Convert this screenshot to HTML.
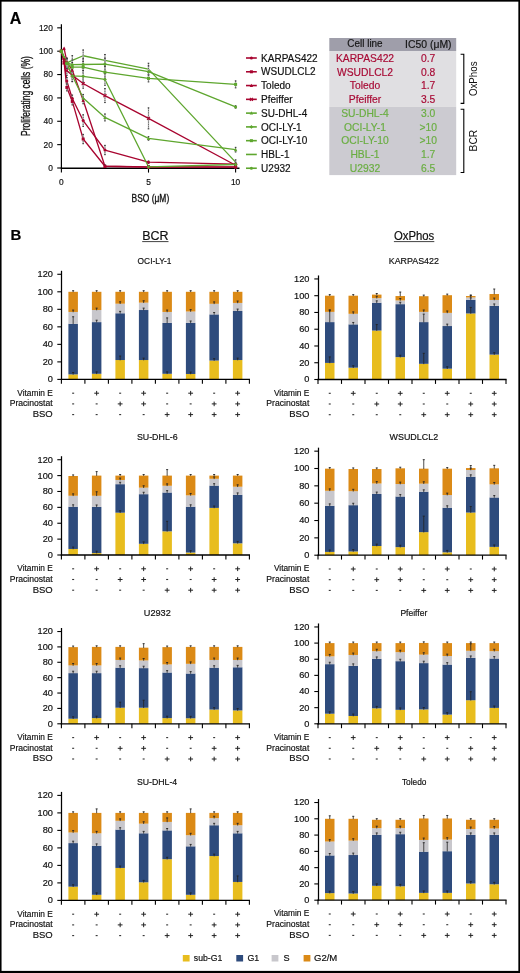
<!DOCTYPE html>
<html><head><meta charset="utf-8"><title>Figure</title>
<style>
html,body{margin:0;padding:0;background:#fff;}
body{width:520px;height:973px;overflow:hidden;}
svg{display:block;font-family:"Liberation Sans", sans-serif;will-change:transform;}
</style></head>
<body>
<svg width="520" height="973" viewBox="0 0 520 973">
<rect x="0" y="0" width="520" height="973" fill="#fff"/>
<text x="9.80" y="23.90" font-size="16" font-weight="bold" fill="#000" stroke="#000" stroke-width="0.18">A</text>
<line x1="61.40" y1="24.20" x2="61.40" y2="168.60" stroke="#000" stroke-width="1.2"/>
<line x1="60.80" y1="168.25" x2="239.50" y2="168.25" stroke="#000" stroke-width="1.4"/>
<line x1="57.20" y1="168.00" x2="61.40" y2="168.00" stroke="#000" stroke-width="1.1"/>
<text x="52.90" y="170.90" font-size="8.4" text-anchor="end" fill="#111" stroke="#111" stroke-width="0.18">0</text>
<line x1="57.20" y1="144.64" x2="61.40" y2="144.64" stroke="#000" stroke-width="1.1"/>
<text x="52.90" y="147.54" font-size="8.4" text-anchor="end" fill="#111" stroke="#111" stroke-width="0.18">20</text>
<line x1="57.20" y1="121.28" x2="61.40" y2="121.28" stroke="#000" stroke-width="1.1"/>
<text x="52.90" y="124.18" font-size="8.4" text-anchor="end" fill="#111" stroke="#111" stroke-width="0.18">40</text>
<line x1="57.20" y1="97.92" x2="61.40" y2="97.92" stroke="#000" stroke-width="1.1"/>
<text x="52.90" y="100.82" font-size="8.4" text-anchor="end" fill="#111" stroke="#111" stroke-width="0.18">60</text>
<line x1="57.20" y1="74.56" x2="61.40" y2="74.56" stroke="#000" stroke-width="1.1"/>
<text x="52.90" y="77.46" font-size="8.4" text-anchor="end" fill="#111" stroke="#111" stroke-width="0.18">80</text>
<line x1="57.20" y1="51.20" x2="61.40" y2="51.20" stroke="#000" stroke-width="1.1"/>
<text x="52.90" y="54.10" font-size="8.4" text-anchor="end" fill="#111" stroke="#111" stroke-width="0.18">100</text>
<line x1="57.20" y1="27.84" x2="61.40" y2="27.84" stroke="#000" stroke-width="1.1"/>
<text x="52.90" y="30.74" font-size="8.4" text-anchor="end" fill="#111" stroke="#111" stroke-width="0.18">120</text>
<line x1="61.40" y1="168.00" x2="61.40" y2="172.60" stroke="#000" stroke-width="1.1"/>
<text x="61.40" y="184.70" font-size="8.4" text-anchor="middle" fill="#111" stroke="#111" stroke-width="0.18">0</text>
<line x1="148.50" y1="168.00" x2="148.50" y2="172.60" stroke="#000" stroke-width="1.1"/>
<text x="148.50" y="184.70" font-size="8.4" text-anchor="middle" fill="#111" stroke="#111" stroke-width="0.18">5</text>
<line x1="235.60" y1="168.00" x2="235.60" y2="172.60" stroke="#000" stroke-width="1.1"/>
<text x="235.60" y="184.70" font-size="8.4" text-anchor="middle" fill="#111" stroke="#111" stroke-width="0.18">10</text>
<text transform="translate(29.9,96.1) rotate(-90)" x="0" y="0" font-size="12.4" text-anchor="middle" textLength="79.8" lengthAdjust="spacingAndGlyphs" fill="#111" stroke="#111" stroke-width="0.3">Proliferating cells (%)</text>
<text x="131.60" y="201.50" font-size="10.6" textLength="37.60" lengthAdjust="spacingAndGlyphs" fill="#111" stroke="#111" stroke-width="0.35">BSO (μM)</text>
<polyline points="61.40,51.20 64.12,59.38 66.84,80.98 72.29,98.50 83.17,120.58 104.95,150.01 148.50,162.16 235.60,164.15" fill="none" stroke="#a8042f" stroke-width="1.3" stroke-linejoin="round"/>
<polyline points="61.40,51.20 64.12,62.88 66.84,87.41 72.29,101.42 83.17,139.03 104.95,166.25 148.50,166.83 235.60,166.83" fill="none" stroke="#a8042f" stroke-width="1.3" stroke-linejoin="round"/>
<polyline points="61.40,51.20 64.12,48.28 66.84,61.71 72.29,70.24 83.17,100.26 104.95,166.25 148.50,167.07 235.60,167.07" fill="none" stroke="#a8042f" stroke-width="1.3" stroke-linejoin="round"/>
<polyline points="61.40,51.20 64.12,62.88 66.84,70.71 72.29,75.14 83.17,83.55 104.95,95.58 148.50,118.36 235.60,165.20" fill="none" stroke="#a8042f" stroke-width="1.3" stroke-linejoin="round"/>
<polyline points="61.40,51.20 66.84,62.88 72.29,60.31 83.17,55.76 104.95,60.31 148.50,69.07 235.60,162.16" fill="none" stroke="#5ea62e" stroke-width="1.3" stroke-linejoin="round"/>
<polyline points="61.40,51.20 66.84,62.88 72.29,64.63 83.17,64.52 104.95,64.05 148.50,71.64 235.60,106.91" fill="none" stroke="#5ea62e" stroke-width="1.3" stroke-linejoin="round"/>
<polyline points="61.40,51.20 66.84,63.46 72.29,67.20 83.17,67.08 104.95,72.22 148.50,78.41 235.60,84.37" fill="none" stroke="#5ea62e" stroke-width="1.3" stroke-linejoin="round"/>
<polyline points="61.40,51.20 66.84,63.46 72.29,75.84 83.17,76.31 104.95,79.47 148.50,166.83 235.60,164.50" fill="none" stroke="#5ea62e" stroke-width="1.3" stroke-linejoin="round"/>
<polyline points="61.40,51.20 66.84,63.46 72.29,75.73 83.17,97.92 104.95,117.43 148.50,138.45 235.60,149.66" fill="none" stroke="#5ea62e" stroke-width="1.3" stroke-linejoin="round"/>
<line x1="66.84" y1="77.48" x2="66.84" y2="84.49" stroke="#b4b4b4" stroke-width="1.3"/>
<line x1="66.84" y1="77.48" x2="66.84" y2="84.49" stroke="#555" stroke-width="0.9" stroke-dasharray="0.9,1.4"/>
<line x1="66.04" y1="77.48" x2="67.64" y2="77.48" stroke="#333" stroke-width="1.0"/>
<line x1="66.04" y1="84.49" x2="67.64" y2="84.49" stroke="#333" stroke-width="1.0"/>
<line x1="72.29" y1="95.00" x2="72.29" y2="102.01" stroke="#b4b4b4" stroke-width="1.3"/>
<line x1="72.29" y1="95.00" x2="72.29" y2="102.01" stroke="#555" stroke-width="0.9" stroke-dasharray="0.9,1.4"/>
<line x1="71.49" y1="95.00" x2="73.09" y2="95.00" stroke="#333" stroke-width="1.0"/>
<line x1="71.49" y1="102.01" x2="73.09" y2="102.01" stroke="#333" stroke-width="1.0"/>
<line x1="83.17" y1="114.74" x2="83.17" y2="126.42" stroke="#b4b4b4" stroke-width="1.3"/>
<line x1="83.17" y1="114.74" x2="83.17" y2="126.42" stroke="#555" stroke-width="0.9" stroke-dasharray="0.9,1.4"/>
<line x1="82.38" y1="114.74" x2="83.97" y2="114.74" stroke="#333" stroke-width="1.0"/>
<line x1="82.38" y1="126.42" x2="83.97" y2="126.42" stroke="#333" stroke-width="1.0"/>
<line x1="104.95" y1="145.34" x2="104.95" y2="154.68" stroke="#b4b4b4" stroke-width="1.3"/>
<line x1="104.95" y1="145.34" x2="104.95" y2="154.68" stroke="#555" stroke-width="0.9" stroke-dasharray="0.9,1.4"/>
<line x1="104.15" y1="145.34" x2="105.75" y2="145.34" stroke="#333" stroke-width="1.0"/>
<line x1="104.15" y1="154.68" x2="105.75" y2="154.68" stroke="#333" stroke-width="1.0"/>
<line x1="148.50" y1="160.99" x2="148.50" y2="163.33" stroke="#b4b4b4" stroke-width="1.3"/>
<line x1="148.50" y1="160.99" x2="148.50" y2="163.33" stroke="#555" stroke-width="0.9" stroke-dasharray="0.9,1.4"/>
<line x1="147.70" y1="160.99" x2="149.30" y2="160.99" stroke="#333" stroke-width="1.0"/>
<line x1="147.70" y1="163.33" x2="149.30" y2="163.33" stroke="#333" stroke-width="1.0"/>
<line x1="235.60" y1="162.98" x2="235.60" y2="165.31" stroke="#b4b4b4" stroke-width="1.3"/>
<line x1="235.60" y1="162.98" x2="235.60" y2="165.31" stroke="#555" stroke-width="0.9" stroke-dasharray="0.9,1.4"/>
<line x1="234.80" y1="162.98" x2="236.40" y2="162.98" stroke="#333" stroke-width="1.0"/>
<line x1="234.80" y1="165.31" x2="236.40" y2="165.31" stroke="#333" stroke-width="1.0"/>
<line x1="66.84" y1="83.90" x2="66.84" y2="90.91" stroke="#b4b4b4" stroke-width="1.3"/>
<line x1="66.84" y1="83.90" x2="66.84" y2="90.91" stroke="#555" stroke-width="0.9" stroke-dasharray="0.9,1.4"/>
<line x1="66.04" y1="83.90" x2="67.64" y2="83.90" stroke="#333" stroke-width="1.0"/>
<line x1="66.04" y1="90.91" x2="67.64" y2="90.91" stroke="#333" stroke-width="1.0"/>
<line x1="72.29" y1="97.92" x2="72.29" y2="104.93" stroke="#b4b4b4" stroke-width="1.3"/>
<line x1="72.29" y1="97.92" x2="72.29" y2="104.93" stroke="#555" stroke-width="0.9" stroke-dasharray="0.9,1.4"/>
<line x1="71.49" y1="97.92" x2="73.09" y2="97.92" stroke="#333" stroke-width="1.0"/>
<line x1="71.49" y1="104.93" x2="73.09" y2="104.93" stroke="#333" stroke-width="1.0"/>
<line x1="83.17" y1="134.36" x2="83.17" y2="143.71" stroke="#b4b4b4" stroke-width="1.3"/>
<line x1="83.17" y1="134.36" x2="83.17" y2="143.71" stroke="#555" stroke-width="0.9" stroke-dasharray="0.9,1.4"/>
<line x1="82.38" y1="134.36" x2="83.97" y2="134.36" stroke="#333" stroke-width="1.0"/>
<line x1="82.38" y1="143.71" x2="83.97" y2="143.71" stroke="#333" stroke-width="1.0"/>
<line x1="104.95" y1="165.08" x2="104.95" y2="167.42" stroke="#b4b4b4" stroke-width="1.3"/>
<line x1="104.95" y1="165.08" x2="104.95" y2="167.42" stroke="#555" stroke-width="0.9" stroke-dasharray="0.9,1.4"/>
<line x1="104.15" y1="165.08" x2="105.75" y2="165.08" stroke="#333" stroke-width="1.0"/>
<line x1="104.15" y1="167.42" x2="105.75" y2="167.42" stroke="#333" stroke-width="1.0"/>
<line x1="148.50" y1="165.66" x2="148.50" y2="168.00" stroke="#b4b4b4" stroke-width="1.3"/>
<line x1="148.50" y1="165.66" x2="148.50" y2="168.00" stroke="#555" stroke-width="0.9" stroke-dasharray="0.9,1.4"/>
<line x1="147.70" y1="165.66" x2="149.30" y2="165.66" stroke="#333" stroke-width="1.0"/>
<line x1="147.70" y1="168.00" x2="149.30" y2="168.00" stroke="#333" stroke-width="1.0"/>
<line x1="235.60" y1="165.66" x2="235.60" y2="168.00" stroke="#b4b4b4" stroke-width="1.3"/>
<line x1="235.60" y1="165.66" x2="235.60" y2="168.00" stroke="#555" stroke-width="0.9" stroke-dasharray="0.9,1.4"/>
<line x1="234.80" y1="165.66" x2="236.40" y2="165.66" stroke="#333" stroke-width="1.0"/>
<line x1="234.80" y1="168.00" x2="236.40" y2="168.00" stroke="#333" stroke-width="1.0"/>
<line x1="66.84" y1="58.21" x2="66.84" y2="65.22" stroke="#b4b4b4" stroke-width="1.3"/>
<line x1="66.84" y1="58.21" x2="66.84" y2="65.22" stroke="#555" stroke-width="0.9" stroke-dasharray="0.9,1.4"/>
<line x1="66.04" y1="58.21" x2="67.64" y2="58.21" stroke="#333" stroke-width="1.0"/>
<line x1="66.04" y1="65.22" x2="67.64" y2="65.22" stroke="#333" stroke-width="1.0"/>
<line x1="72.29" y1="66.73" x2="72.29" y2="73.74" stroke="#b4b4b4" stroke-width="1.3"/>
<line x1="72.29" y1="66.73" x2="72.29" y2="73.74" stroke="#555" stroke-width="0.9" stroke-dasharray="0.9,1.4"/>
<line x1="71.49" y1="66.73" x2="73.09" y2="66.73" stroke="#333" stroke-width="1.0"/>
<line x1="71.49" y1="73.74" x2="73.09" y2="73.74" stroke="#333" stroke-width="1.0"/>
<line x1="83.17" y1="96.75" x2="83.17" y2="103.76" stroke="#b4b4b4" stroke-width="1.3"/>
<line x1="83.17" y1="96.75" x2="83.17" y2="103.76" stroke="#555" stroke-width="0.9" stroke-dasharray="0.9,1.4"/>
<line x1="82.38" y1="96.75" x2="83.97" y2="96.75" stroke="#333" stroke-width="1.0"/>
<line x1="82.38" y1="103.76" x2="83.97" y2="103.76" stroke="#333" stroke-width="1.0"/>
<line x1="104.95" y1="165.08" x2="104.95" y2="167.42" stroke="#b4b4b4" stroke-width="1.3"/>
<line x1="104.95" y1="165.08" x2="104.95" y2="167.42" stroke="#555" stroke-width="0.9" stroke-dasharray="0.9,1.4"/>
<line x1="104.15" y1="165.08" x2="105.75" y2="165.08" stroke="#333" stroke-width="1.0"/>
<line x1="104.15" y1="167.42" x2="105.75" y2="167.42" stroke="#333" stroke-width="1.0"/>
<line x1="148.50" y1="165.90" x2="148.50" y2="168.00" stroke="#b4b4b4" stroke-width="1.3"/>
<line x1="148.50" y1="165.90" x2="148.50" y2="168.00" stroke="#555" stroke-width="0.9" stroke-dasharray="0.9,1.4"/>
<line x1="147.70" y1="165.90" x2="149.30" y2="165.90" stroke="#333" stroke-width="1.0"/>
<line x1="147.70" y1="168.00" x2="149.30" y2="168.00" stroke="#333" stroke-width="1.0"/>
<line x1="235.60" y1="165.90" x2="235.60" y2="168.00" stroke="#b4b4b4" stroke-width="1.3"/>
<line x1="235.60" y1="165.90" x2="235.60" y2="168.00" stroke="#555" stroke-width="0.9" stroke-dasharray="0.9,1.4"/>
<line x1="234.80" y1="165.90" x2="236.40" y2="165.90" stroke="#333" stroke-width="1.0"/>
<line x1="234.80" y1="168.00" x2="236.40" y2="168.00" stroke="#333" stroke-width="1.0"/>
<line x1="66.84" y1="66.03" x2="66.84" y2="75.38" stroke="#b4b4b4" stroke-width="1.3"/>
<line x1="66.84" y1="66.03" x2="66.84" y2="75.38" stroke="#555" stroke-width="0.9" stroke-dasharray="0.9,1.4"/>
<line x1="66.04" y1="66.03" x2="67.64" y2="66.03" stroke="#333" stroke-width="1.0"/>
<line x1="66.04" y1="75.38" x2="67.64" y2="75.38" stroke="#333" stroke-width="1.0"/>
<line x1="72.29" y1="71.64" x2="72.29" y2="78.65" stroke="#b4b4b4" stroke-width="1.3"/>
<line x1="72.29" y1="71.64" x2="72.29" y2="78.65" stroke="#555" stroke-width="0.9" stroke-dasharray="0.9,1.4"/>
<line x1="71.49" y1="71.64" x2="73.09" y2="71.64" stroke="#333" stroke-width="1.0"/>
<line x1="71.49" y1="78.65" x2="73.09" y2="78.65" stroke="#333" stroke-width="1.0"/>
<line x1="83.17" y1="78.88" x2="83.17" y2="88.23" stroke="#b4b4b4" stroke-width="1.3"/>
<line x1="83.17" y1="78.88" x2="83.17" y2="88.23" stroke="#555" stroke-width="0.9" stroke-dasharray="0.9,1.4"/>
<line x1="82.38" y1="78.88" x2="83.97" y2="78.88" stroke="#333" stroke-width="1.0"/>
<line x1="82.38" y1="88.23" x2="83.97" y2="88.23" stroke="#333" stroke-width="1.0"/>
<line x1="104.95" y1="88.58" x2="104.95" y2="102.59" stroke="#b4b4b4" stroke-width="1.3"/>
<line x1="104.95" y1="88.58" x2="104.95" y2="102.59" stroke="#555" stroke-width="0.9" stroke-dasharray="0.9,1.4"/>
<line x1="104.15" y1="88.58" x2="105.75" y2="88.58" stroke="#333" stroke-width="1.0"/>
<line x1="104.15" y1="102.59" x2="105.75" y2="102.59" stroke="#333" stroke-width="1.0"/>
<line x1="148.50" y1="107.85" x2="148.50" y2="128.87" stroke="#b4b4b4" stroke-width="1.3"/>
<line x1="148.50" y1="107.85" x2="148.50" y2="128.87" stroke="#555" stroke-width="0.9" stroke-dasharray="0.9,1.4"/>
<line x1="147.70" y1="107.85" x2="149.30" y2="107.85" stroke="#333" stroke-width="1.0"/>
<line x1="147.70" y1="128.87" x2="149.30" y2="128.87" stroke="#333" stroke-width="1.0"/>
<line x1="235.60" y1="164.03" x2="235.60" y2="166.36" stroke="#b4b4b4" stroke-width="1.3"/>
<line x1="235.60" y1="164.03" x2="235.60" y2="166.36" stroke="#555" stroke-width="0.9" stroke-dasharray="0.9,1.4"/>
<line x1="234.80" y1="164.03" x2="236.40" y2="164.03" stroke="#333" stroke-width="1.0"/>
<line x1="234.80" y1="166.36" x2="236.40" y2="166.36" stroke="#333" stroke-width="1.0"/>
<line x1="66.84" y1="58.21" x2="66.84" y2="67.55" stroke="#b4b4b4" stroke-width="1.3"/>
<line x1="66.84" y1="58.21" x2="66.84" y2="67.55" stroke="#555" stroke-width="0.9" stroke-dasharray="0.9,1.4"/>
<line x1="66.04" y1="58.21" x2="67.64" y2="58.21" stroke="#333" stroke-width="1.0"/>
<line x1="66.04" y1="67.55" x2="67.64" y2="67.55" stroke="#333" stroke-width="1.0"/>
<line x1="72.29" y1="55.64" x2="72.29" y2="64.98" stroke="#b4b4b4" stroke-width="1.3"/>
<line x1="72.29" y1="55.64" x2="72.29" y2="64.98" stroke="#555" stroke-width="0.9" stroke-dasharray="0.9,1.4"/>
<line x1="71.49" y1="55.64" x2="73.09" y2="55.64" stroke="#333" stroke-width="1.0"/>
<line x1="71.49" y1="64.98" x2="73.09" y2="64.98" stroke="#333" stroke-width="1.0"/>
<line x1="83.17" y1="49.92" x2="83.17" y2="61.60" stroke="#b4b4b4" stroke-width="1.3"/>
<line x1="83.17" y1="49.92" x2="83.17" y2="61.60" stroke="#555" stroke-width="0.9" stroke-dasharray="0.9,1.4"/>
<line x1="82.38" y1="49.92" x2="83.97" y2="49.92" stroke="#333" stroke-width="1.0"/>
<line x1="82.38" y1="61.60" x2="83.97" y2="61.60" stroke="#333" stroke-width="1.0"/>
<line x1="104.95" y1="54.47" x2="104.95" y2="66.15" stroke="#b4b4b4" stroke-width="1.3"/>
<line x1="104.95" y1="54.47" x2="104.95" y2="66.15" stroke="#555" stroke-width="0.9" stroke-dasharray="0.9,1.4"/>
<line x1="104.15" y1="54.47" x2="105.75" y2="54.47" stroke="#333" stroke-width="1.0"/>
<line x1="104.15" y1="66.15" x2="105.75" y2="66.15" stroke="#333" stroke-width="1.0"/>
<line x1="148.50" y1="63.23" x2="148.50" y2="74.91" stroke="#b4b4b4" stroke-width="1.3"/>
<line x1="148.50" y1="63.23" x2="148.50" y2="74.91" stroke="#555" stroke-width="0.9" stroke-dasharray="0.9,1.4"/>
<line x1="147.70" y1="63.23" x2="149.30" y2="63.23" stroke="#333" stroke-width="1.0"/>
<line x1="147.70" y1="74.91" x2="149.30" y2="74.91" stroke="#333" stroke-width="1.0"/>
<line x1="235.60" y1="159.82" x2="235.60" y2="164.50" stroke="#b4b4b4" stroke-width="1.3"/>
<line x1="235.60" y1="159.82" x2="235.60" y2="164.50" stroke="#555" stroke-width="0.9" stroke-dasharray="0.9,1.4"/>
<line x1="234.80" y1="159.82" x2="236.40" y2="159.82" stroke="#333" stroke-width="1.0"/>
<line x1="234.80" y1="164.50" x2="236.40" y2="164.50" stroke="#333" stroke-width="1.0"/>
<line x1="66.84" y1="58.21" x2="66.84" y2="67.55" stroke="#b4b4b4" stroke-width="1.3"/>
<line x1="66.84" y1="58.21" x2="66.84" y2="67.55" stroke="#555" stroke-width="0.9" stroke-dasharray="0.9,1.4"/>
<line x1="66.04" y1="58.21" x2="67.64" y2="58.21" stroke="#333" stroke-width="1.0"/>
<line x1="66.04" y1="67.55" x2="67.64" y2="67.55" stroke="#333" stroke-width="1.0"/>
<line x1="72.29" y1="59.96" x2="72.29" y2="69.30" stroke="#b4b4b4" stroke-width="1.3"/>
<line x1="72.29" y1="59.96" x2="72.29" y2="69.30" stroke="#555" stroke-width="0.9" stroke-dasharray="0.9,1.4"/>
<line x1="71.49" y1="59.96" x2="73.09" y2="59.96" stroke="#333" stroke-width="1.0"/>
<line x1="71.49" y1="69.30" x2="73.09" y2="69.30" stroke="#333" stroke-width="1.0"/>
<line x1="83.17" y1="58.68" x2="83.17" y2="70.36" stroke="#b4b4b4" stroke-width="1.3"/>
<line x1="83.17" y1="58.68" x2="83.17" y2="70.36" stroke="#555" stroke-width="0.9" stroke-dasharray="0.9,1.4"/>
<line x1="82.38" y1="58.68" x2="83.97" y2="58.68" stroke="#333" stroke-width="1.0"/>
<line x1="82.38" y1="70.36" x2="83.97" y2="70.36" stroke="#333" stroke-width="1.0"/>
<line x1="104.95" y1="58.21" x2="104.95" y2="69.89" stroke="#b4b4b4" stroke-width="1.3"/>
<line x1="104.95" y1="58.21" x2="104.95" y2="69.89" stroke="#555" stroke-width="0.9" stroke-dasharray="0.9,1.4"/>
<line x1="104.15" y1="58.21" x2="105.75" y2="58.21" stroke="#333" stroke-width="1.0"/>
<line x1="104.15" y1="69.89" x2="105.75" y2="69.89" stroke="#333" stroke-width="1.0"/>
<line x1="148.50" y1="65.80" x2="148.50" y2="77.48" stroke="#b4b4b4" stroke-width="1.3"/>
<line x1="148.50" y1="65.80" x2="148.50" y2="77.48" stroke="#555" stroke-width="0.9" stroke-dasharray="0.9,1.4"/>
<line x1="147.70" y1="65.80" x2="149.30" y2="65.80" stroke="#333" stroke-width="1.0"/>
<line x1="147.70" y1="77.48" x2="149.30" y2="77.48" stroke="#333" stroke-width="1.0"/>
<line x1="235.60" y1="105.75" x2="235.60" y2="108.08" stroke="#b4b4b4" stroke-width="1.3"/>
<line x1="235.60" y1="105.75" x2="235.60" y2="108.08" stroke="#555" stroke-width="0.9" stroke-dasharray="0.9,1.4"/>
<line x1="234.80" y1="105.75" x2="236.40" y2="105.75" stroke="#333" stroke-width="1.0"/>
<line x1="234.80" y1="108.08" x2="236.40" y2="108.08" stroke="#333" stroke-width="1.0"/>
<line x1="66.84" y1="58.79" x2="66.84" y2="68.14" stroke="#b4b4b4" stroke-width="1.3"/>
<line x1="66.84" y1="58.79" x2="66.84" y2="68.14" stroke="#555" stroke-width="0.9" stroke-dasharray="0.9,1.4"/>
<line x1="66.04" y1="58.79" x2="67.64" y2="58.79" stroke="#333" stroke-width="1.0"/>
<line x1="66.04" y1="68.14" x2="67.64" y2="68.14" stroke="#333" stroke-width="1.0"/>
<line x1="72.29" y1="62.53" x2="72.29" y2="71.87" stroke="#b4b4b4" stroke-width="1.3"/>
<line x1="72.29" y1="62.53" x2="72.29" y2="71.87" stroke="#555" stroke-width="0.9" stroke-dasharray="0.9,1.4"/>
<line x1="71.49" y1="62.53" x2="73.09" y2="62.53" stroke="#333" stroke-width="1.0"/>
<line x1="71.49" y1="71.87" x2="73.09" y2="71.87" stroke="#333" stroke-width="1.0"/>
<line x1="83.17" y1="61.24" x2="83.17" y2="72.92" stroke="#b4b4b4" stroke-width="1.3"/>
<line x1="83.17" y1="61.24" x2="83.17" y2="72.92" stroke="#555" stroke-width="0.9" stroke-dasharray="0.9,1.4"/>
<line x1="82.38" y1="61.24" x2="83.97" y2="61.24" stroke="#333" stroke-width="1.0"/>
<line x1="82.38" y1="72.92" x2="83.97" y2="72.92" stroke="#333" stroke-width="1.0"/>
<line x1="104.95" y1="66.38" x2="104.95" y2="78.06" stroke="#b4b4b4" stroke-width="1.3"/>
<line x1="104.95" y1="66.38" x2="104.95" y2="78.06" stroke="#555" stroke-width="0.9" stroke-dasharray="0.9,1.4"/>
<line x1="104.15" y1="66.38" x2="105.75" y2="66.38" stroke="#333" stroke-width="1.0"/>
<line x1="104.15" y1="78.06" x2="105.75" y2="78.06" stroke="#333" stroke-width="1.0"/>
<line x1="148.50" y1="74.91" x2="148.50" y2="81.92" stroke="#b4b4b4" stroke-width="1.3"/>
<line x1="148.50" y1="74.91" x2="148.50" y2="81.92" stroke="#555" stroke-width="0.9" stroke-dasharray="0.9,1.4"/>
<line x1="147.70" y1="74.91" x2="149.30" y2="74.91" stroke="#333" stroke-width="1.0"/>
<line x1="147.70" y1="81.92" x2="149.30" y2="81.92" stroke="#333" stroke-width="1.0"/>
<line x1="235.60" y1="80.87" x2="235.60" y2="87.88" stroke="#b4b4b4" stroke-width="1.3"/>
<line x1="235.60" y1="80.87" x2="235.60" y2="87.88" stroke="#555" stroke-width="0.9" stroke-dasharray="0.9,1.4"/>
<line x1="234.80" y1="80.87" x2="236.40" y2="80.87" stroke="#333" stroke-width="1.0"/>
<line x1="234.80" y1="87.88" x2="236.40" y2="87.88" stroke="#333" stroke-width="1.0"/>
<line x1="66.84" y1="58.79" x2="66.84" y2="68.14" stroke="#b4b4b4" stroke-width="1.3"/>
<line x1="66.84" y1="58.79" x2="66.84" y2="68.14" stroke="#555" stroke-width="0.9" stroke-dasharray="0.9,1.4"/>
<line x1="66.04" y1="58.79" x2="67.64" y2="58.79" stroke="#333" stroke-width="1.0"/>
<line x1="66.04" y1="68.14" x2="67.64" y2="68.14" stroke="#333" stroke-width="1.0"/>
<line x1="72.29" y1="70.00" x2="72.29" y2="81.68" stroke="#b4b4b4" stroke-width="1.3"/>
<line x1="72.29" y1="70.00" x2="72.29" y2="81.68" stroke="#555" stroke-width="0.9" stroke-dasharray="0.9,1.4"/>
<line x1="71.49" y1="70.00" x2="73.09" y2="70.00" stroke="#333" stroke-width="1.0"/>
<line x1="71.49" y1="81.68" x2="73.09" y2="81.68" stroke="#333" stroke-width="1.0"/>
<line x1="83.17" y1="70.47" x2="83.17" y2="82.15" stroke="#b4b4b4" stroke-width="1.3"/>
<line x1="83.17" y1="70.47" x2="83.17" y2="82.15" stroke="#555" stroke-width="0.9" stroke-dasharray="0.9,1.4"/>
<line x1="82.38" y1="70.47" x2="83.97" y2="70.47" stroke="#333" stroke-width="1.0"/>
<line x1="82.38" y1="82.15" x2="83.97" y2="82.15" stroke="#333" stroke-width="1.0"/>
<line x1="104.95" y1="73.63" x2="104.95" y2="85.31" stroke="#b4b4b4" stroke-width="1.3"/>
<line x1="104.95" y1="73.63" x2="104.95" y2="85.31" stroke="#555" stroke-width="0.9" stroke-dasharray="0.9,1.4"/>
<line x1="104.15" y1="73.63" x2="105.75" y2="73.63" stroke="#333" stroke-width="1.0"/>
<line x1="104.15" y1="85.31" x2="105.75" y2="85.31" stroke="#333" stroke-width="1.0"/>
<line x1="148.50" y1="165.66" x2="148.50" y2="168.00" stroke="#b4b4b4" stroke-width="1.3"/>
<line x1="148.50" y1="165.66" x2="148.50" y2="168.00" stroke="#555" stroke-width="0.9" stroke-dasharray="0.9,1.4"/>
<line x1="147.70" y1="165.66" x2="149.30" y2="165.66" stroke="#333" stroke-width="1.0"/>
<line x1="147.70" y1="168.00" x2="149.30" y2="168.00" stroke="#333" stroke-width="1.0"/>
<line x1="235.60" y1="162.16" x2="235.60" y2="166.83" stroke="#b4b4b4" stroke-width="1.3"/>
<line x1="235.60" y1="162.16" x2="235.60" y2="166.83" stroke="#555" stroke-width="0.9" stroke-dasharray="0.9,1.4"/>
<line x1="234.80" y1="162.16" x2="236.40" y2="162.16" stroke="#333" stroke-width="1.0"/>
<line x1="234.80" y1="166.83" x2="236.40" y2="166.83" stroke="#333" stroke-width="1.0"/>
<line x1="66.84" y1="58.79" x2="66.84" y2="68.14" stroke="#b4b4b4" stroke-width="1.3"/>
<line x1="66.84" y1="58.79" x2="66.84" y2="68.14" stroke="#555" stroke-width="0.9" stroke-dasharray="0.9,1.4"/>
<line x1="66.04" y1="58.79" x2="67.64" y2="58.79" stroke="#333" stroke-width="1.0"/>
<line x1="66.04" y1="68.14" x2="67.64" y2="68.14" stroke="#333" stroke-width="1.0"/>
<line x1="72.29" y1="69.89" x2="72.29" y2="81.57" stroke="#b4b4b4" stroke-width="1.3"/>
<line x1="72.29" y1="69.89" x2="72.29" y2="81.57" stroke="#555" stroke-width="0.9" stroke-dasharray="0.9,1.4"/>
<line x1="71.49" y1="69.89" x2="73.09" y2="69.89" stroke="#333" stroke-width="1.0"/>
<line x1="71.49" y1="81.57" x2="73.09" y2="81.57" stroke="#333" stroke-width="1.0"/>
<line x1="83.17" y1="94.42" x2="83.17" y2="101.42" stroke="#b4b4b4" stroke-width="1.3"/>
<line x1="83.17" y1="94.42" x2="83.17" y2="101.42" stroke="#555" stroke-width="0.9" stroke-dasharray="0.9,1.4"/>
<line x1="82.38" y1="94.42" x2="83.97" y2="94.42" stroke="#333" stroke-width="1.0"/>
<line x1="82.38" y1="101.42" x2="83.97" y2="101.42" stroke="#333" stroke-width="1.0"/>
<line x1="104.95" y1="113.92" x2="104.95" y2="120.93" stroke="#b4b4b4" stroke-width="1.3"/>
<line x1="104.95" y1="113.92" x2="104.95" y2="120.93" stroke="#555" stroke-width="0.9" stroke-dasharray="0.9,1.4"/>
<line x1="104.15" y1="113.92" x2="105.75" y2="113.92" stroke="#333" stroke-width="1.0"/>
<line x1="104.15" y1="120.93" x2="105.75" y2="120.93" stroke="#333" stroke-width="1.0"/>
<line x1="148.50" y1="136.70" x2="148.50" y2="140.20" stroke="#b4b4b4" stroke-width="1.3"/>
<line x1="148.50" y1="136.70" x2="148.50" y2="140.20" stroke="#555" stroke-width="0.9" stroke-dasharray="0.9,1.4"/>
<line x1="147.70" y1="136.70" x2="149.30" y2="136.70" stroke="#333" stroke-width="1.0"/>
<line x1="147.70" y1="140.20" x2="149.30" y2="140.20" stroke="#333" stroke-width="1.0"/>
<line x1="235.60" y1="147.33" x2="235.60" y2="152.00" stroke="#b4b4b4" stroke-width="1.3"/>
<line x1="235.60" y1="147.33" x2="235.60" y2="152.00" stroke="#555" stroke-width="0.9" stroke-dasharray="0.9,1.4"/>
<line x1="234.80" y1="147.33" x2="236.40" y2="147.33" stroke="#333" stroke-width="1.0"/>
<line x1="234.80" y1="152.00" x2="236.40" y2="152.00" stroke="#333" stroke-width="1.0"/>
<circle cx="61.40" cy="51.20" r="1.5" fill="#a8042f"/>
<circle cx="64.12" cy="59.38" r="1.5" fill="#a8042f"/>
<circle cx="66.84" cy="80.98" r="1.5" fill="#a8042f"/>
<circle cx="72.29" cy="98.50" r="1.5" fill="#a8042f"/>
<circle cx="83.17" cy="120.58" r="1.5" fill="#a8042f"/>
<circle cx="104.95" cy="150.01" r="1.5" fill="#a8042f"/>
<circle cx="148.50" cy="162.16" r="1.5" fill="#a8042f"/>
<circle cx="235.60" cy="164.15" r="1.5" fill="#a8042f"/>
<rect x="59.90" y="49.70" width="3.00" height="3.00" fill="#a8042f"/>
<rect x="62.62" y="61.38" width="3.00" height="3.00" fill="#a8042f"/>
<rect x="65.34" y="85.91" width="3.00" height="3.00" fill="#a8042f"/>
<rect x="70.79" y="99.92" width="3.00" height="3.00" fill="#a8042f"/>
<rect x="81.67" y="137.53" width="3.00" height="3.00" fill="#a8042f"/>
<rect x="103.45" y="164.75" width="3.00" height="3.00" fill="#a8042f"/>
<rect x="147.00" y="165.33" width="3.00" height="3.00" fill="#a8042f"/>
<rect x="234.10" y="165.33" width="3.00" height="3.00" fill="#a8042f"/>
<path d="M61.40,49.40L63.10,52.70L59.70,52.70Z" fill="#a8042f"/>
<path d="M64.12,46.48L65.82,49.78L62.42,49.78Z" fill="#a8042f"/>
<path d="M66.84,59.91L68.54,63.21L65.14,63.21Z" fill="#a8042f"/>
<path d="M72.29,68.44L73.99,71.74L70.59,71.74Z" fill="#a8042f"/>
<path d="M83.17,98.46L84.88,101.76L81.47,101.76Z" fill="#a8042f"/>
<path d="M104.95,164.45L106.65,167.75L103.25,167.75Z" fill="#a8042f"/>
<path d="M148.50,165.27L150.20,168.57L146.80,168.57Z" fill="#a8042f"/>
<path d="M235.60,165.27L237.30,168.57L233.90,168.57Z" fill="#a8042f"/>
<path d="M59.90,49.70L62.90,52.70M62.90,49.70L59.90,52.70" stroke="#a8042f" stroke-width="1.1"/>
<path d="M62.62,61.38L65.62,64.38M65.62,61.38L62.62,64.38" stroke="#a8042f" stroke-width="1.1"/>
<path d="M65.34,69.21L68.34,72.21M68.34,69.21L65.34,72.21" stroke="#a8042f" stroke-width="1.1"/>
<path d="M70.79,73.64L73.79,76.64M73.79,73.64L70.79,76.64" stroke="#a8042f" stroke-width="1.1"/>
<path d="M81.67,82.05L84.67,85.05M84.67,82.05L81.67,85.05" stroke="#a8042f" stroke-width="1.1"/>
<path d="M103.45,94.08L106.45,97.08M106.45,94.08L103.45,97.08" stroke="#a8042f" stroke-width="1.1"/>
<path d="M147.00,116.86L150.00,119.86M150.00,116.86L147.00,119.86" stroke="#a8042f" stroke-width="1.1"/>
<path d="M234.10,163.70L237.10,166.70M237.10,163.70L234.10,166.70" stroke="#a8042f" stroke-width="1.1"/>
<circle cx="61.40" cy="51.20" r="1.5" fill="#5ea62e"/>
<circle cx="66.84" cy="62.88" r="1.5" fill="#5ea62e"/>
<circle cx="72.29" cy="64.63" r="1.5" fill="#5ea62e"/>
<circle cx="83.17" cy="64.52" r="1.5" fill="#5ea62e"/>
<circle cx="104.95" cy="64.05" r="1.5" fill="#5ea62e"/>
<circle cx="148.50" cy="71.64" r="1.5" fill="#5ea62e"/>
<circle cx="235.60" cy="106.91" r="1.5" fill="#5ea62e"/>
<rect x="59.90" y="49.70" width="3.00" height="3.00" fill="#5ea62e"/>
<rect x="65.34" y="61.96" width="3.00" height="3.00" fill="#5ea62e"/>
<rect x="70.79" y="65.70" width="3.00" height="3.00" fill="#5ea62e"/>
<rect x="81.67" y="65.58" width="3.00" height="3.00" fill="#5ea62e"/>
<rect x="103.45" y="70.72" width="3.00" height="3.00" fill="#5ea62e"/>
<rect x="147.00" y="76.91" width="3.00" height="3.00" fill="#5ea62e"/>
<rect x="234.10" y="82.87" width="3.00" height="3.00" fill="#5ea62e"/>
<path d="M61.40,49.30L63.30,51.20L61.40,53.10L59.50,51.20Z" fill="#5ea62e"/>
<path d="M66.84,61.56L68.74,63.46L66.84,65.36L64.94,63.46Z" fill="#5ea62e"/>
<path d="M72.29,73.94L74.19,75.84L72.29,77.74L70.39,75.84Z" fill="#5ea62e"/>
<path d="M83.17,74.41L85.08,76.31L83.17,78.21L81.27,76.31Z" fill="#5ea62e"/>
<path d="M104.95,77.57L106.85,79.47L104.95,81.37L103.05,79.47Z" fill="#5ea62e"/>
<path d="M148.50,164.93L150.40,166.83L148.50,168.73L146.60,166.83Z" fill="#5ea62e"/>
<path d="M235.60,162.60L237.50,164.50L235.60,166.40L233.70,164.50Z" fill="#5ea62e"/>
<path d="M61.40,49.40L63.10,52.70L59.70,52.70Z" fill="#5ea62e"/>
<path d="M66.84,61.66L68.54,64.96L65.14,64.96Z" fill="#5ea62e"/>
<path d="M72.29,73.93L73.99,77.23L70.59,77.23Z" fill="#5ea62e"/>
<path d="M83.17,96.12L84.88,99.42L81.47,99.42Z" fill="#5ea62e"/>
<path d="M104.95,115.63L106.65,118.93L103.25,118.93Z" fill="#5ea62e"/>
<path d="M148.50,136.65L150.20,139.95L146.80,139.95Z" fill="#5ea62e"/>
<path d="M235.60,147.86L237.30,151.16L233.90,151.16Z" fill="#5ea62e"/>
<line x1="246.00" y1="58.00" x2="256.80" y2="58.00" stroke="#a8042f" stroke-width="1.6"/>
<circle cx="251.40" cy="58.00" r="1.5" fill="#a8042f"/>
<text x="261.10" y="61.70" font-size="10" fill="#111" stroke="#111" stroke-width="0.18">KARPAS422</text>
<line x1="246.00" y1="71.78" x2="256.80" y2="71.78" stroke="#a8042f" stroke-width="1.6"/>
<rect x="249.90" y="70.28" width="3.00" height="3.00" fill="#a8042f"/>
<text x="261.10" y="75.48" font-size="10" fill="#111" stroke="#111" stroke-width="0.18">WSUDLCL2</text>
<line x1="246.00" y1="85.56" x2="256.80" y2="85.56" stroke="#a8042f" stroke-width="1.6"/>
<path d="M251.40,83.76L253.10,87.06L249.70,87.06Z" fill="#a8042f"/>
<text x="261.10" y="89.26" font-size="10" fill="#111" stroke="#111" stroke-width="0.18">Toledo</text>
<line x1="246.00" y1="99.34" x2="256.80" y2="99.34" stroke="#a8042f" stroke-width="1.6"/>
<path d="M249.90,97.84L252.90,100.84M252.90,97.84L249.90,100.84" stroke="#a8042f" stroke-width="1.1"/>
<text x="261.10" y="103.04" font-size="10" fill="#111" stroke="#111" stroke-width="0.18">Pfeiffer</text>
<line x1="246.00" y1="113.12" x2="256.80" y2="113.12" stroke="#5ea62e" stroke-width="1.6"/>
<path d="M251.40,111.32L253.10,114.62L249.70,114.62Z" fill="#5ea62e"/>
<text x="261.10" y="116.82" font-size="10" fill="#111" stroke="#111" stroke-width="0.18">SU-DHL-4</text>
<line x1="246.00" y1="126.90" x2="256.80" y2="126.90" stroke="#5ea62e" stroke-width="1.6"/>
<path d="M251.40,125.00L253.30,126.90L251.40,128.80L249.50,126.90Z" fill="#5ea62e"/>
<text x="261.10" y="130.60" font-size="10" fill="#111" stroke="#111" stroke-width="0.18">OCI-LY-1</text>
<line x1="246.00" y1="140.68" x2="256.80" y2="140.68" stroke="#5ea62e" stroke-width="1.6"/>
<rect x="249.90" y="139.18" width="3.00" height="3.00" fill="#5ea62e"/>
<text x="261.10" y="144.38" font-size="10" fill="#111" stroke="#111" stroke-width="0.18">OCI-LY-10</text>
<line x1="246.00" y1="154.46" x2="256.80" y2="154.46" stroke="#5ea62e" stroke-width="1.6"/>
<text x="261.10" y="158.16" font-size="10" fill="#111" stroke="#111" stroke-width="0.18">HBL-1</text>
<line x1="246.00" y1="168.24" x2="256.80" y2="168.24" stroke="#5ea62e" stroke-width="1.6"/>
<circle cx="251.40" cy="168.24" r="1.5" fill="#5ea62e"/>
<text x="261.10" y="171.94" font-size="10" fill="#111" stroke="#111" stroke-width="0.18">U2932</text>
<rect x="329.30" y="38.00" width="126.90" height="13.00" fill="#9f9eaa"/>
<rect x="329.30" y="51.00" width="126.90" height="55.80" fill="#e0dfe2"/>
<rect x="329.30" y="106.80" width="126.90" height="68.30" fill="#cccbd1"/>
<text x="365.00" y="47.40" font-size="10" text-anchor="middle" textLength="35.30" lengthAdjust="spacingAndGlyphs" fill="#151515" stroke="#151515" stroke-width="0.18">Cell line</text>
<text x="428.35" y="47.50" font-size="10" text-anchor="middle" textLength="46.50" lengthAdjust="spacingAndGlyphs" fill="#151515" stroke="#151515" stroke-width="0.18">IC50 (μM)</text>
<text x="365.00" y="61.90" font-size="10.3" text-anchor="middle" fill="#a80a35" stroke="#a80a35" stroke-width="0.18">KARPAS422</text>
<text x="428.20" y="61.90" font-size="10.3" text-anchor="middle" fill="#a80a35" stroke="#a80a35" stroke-width="0.18">0.7</text>
<text x="365.00" y="75.65" font-size="10.3" text-anchor="middle" fill="#a80a35" stroke="#a80a35" stroke-width="0.18">WSUDLCL2</text>
<text x="428.20" y="75.65" font-size="10.3" text-anchor="middle" fill="#a80a35" stroke="#a80a35" stroke-width="0.18">0.8</text>
<text x="365.00" y="89.40" font-size="10.3" text-anchor="middle" fill="#a80a35" stroke="#a80a35" stroke-width="0.18">Toledo</text>
<text x="428.20" y="89.40" font-size="10.3" text-anchor="middle" fill="#a80a35" stroke="#a80a35" stroke-width="0.18">1.7</text>
<text x="365.00" y="103.15" font-size="10.3" text-anchor="middle" fill="#a80a35" stroke="#a80a35" stroke-width="0.18">Pfeiffer</text>
<text x="428.20" y="103.15" font-size="10.3" text-anchor="middle" fill="#a80a35" stroke="#a80a35" stroke-width="0.18">3.5</text>
<text x="365.00" y="116.90" font-size="10.3" text-anchor="middle" fill="#6aae42" stroke="#6aae42" stroke-width="0.18">SU-DHL-4</text>
<text x="428.20" y="116.90" font-size="10.3" text-anchor="middle" fill="#6aae42" stroke="#6aae42" stroke-width="0.18">3.0</text>
<text x="365.00" y="130.65" font-size="10.3" text-anchor="middle" fill="#6aae42" stroke="#6aae42" stroke-width="0.18">OCI-LY-1</text>
<text x="428.20" y="130.65" font-size="10.3" text-anchor="middle" fill="#6aae42" stroke="#6aae42" stroke-width="0.18">&gt;10</text>
<text x="365.00" y="144.40" font-size="10.3" text-anchor="middle" fill="#6aae42" stroke="#6aae42" stroke-width="0.18">OCI-LY-10</text>
<text x="428.20" y="144.40" font-size="10.3" text-anchor="middle" fill="#6aae42" stroke="#6aae42" stroke-width="0.18">&gt;10</text>
<text x="365.00" y="158.15" font-size="10.3" text-anchor="middle" fill="#6aae42" stroke="#6aae42" stroke-width="0.18">HBL-1</text>
<text x="428.20" y="158.15" font-size="10.3" text-anchor="middle" fill="#6aae42" stroke="#6aae42" stroke-width="0.18">1.7</text>
<text x="365.00" y="171.90" font-size="10.3" text-anchor="middle" fill="#6aae42" stroke="#6aae42" stroke-width="0.18">U2932</text>
<text x="428.20" y="171.90" font-size="10.3" text-anchor="middle" fill="#6aae42" stroke="#6aae42" stroke-width="0.18">6.5</text>
<path d="M460.6,54.20H463.8V103.40H460.6" fill="none" stroke="#000" stroke-width="1.1"/>
<path d="M460.6,109.30H463.8V172.50H460.6" fill="none" stroke="#000" stroke-width="1.1"/>
<text transform="translate(477,78.8) rotate(-90)" font-size="10.5" text-anchor="middle" textLength="34.6" lengthAdjust="spacingAndGlyphs" fill="#111">OxPhos</text>
<text transform="translate(477,140.6) rotate(-90)" font-size="10.5" text-anchor="middle" textLength="21.6" lengthAdjust="spacingAndGlyphs" fill="#111">BCR</text>
<text x="10.50" y="240.00" font-size="15" font-weight="bold" fill="#000" stroke="#000" stroke-width="0.18">B</text>
<text x="142.20" y="239.60" font-size="12" textLength="26.30" lengthAdjust="spacingAndGlyphs" fill="#111" stroke="#111" stroke-width="0.18">BCR</text>
<line x1="142.20" y1="241.60" x2="168.50" y2="241.60" stroke="#111" stroke-width="0.8"/>
<text x="393.90" y="239.60" font-size="12" textLength="40.40" lengthAdjust="spacingAndGlyphs" fill="#111" stroke="#111" stroke-width="0.18">OxPhos</text>
<line x1="393.90" y1="241.60" x2="434.30" y2="241.60" stroke="#111" stroke-width="0.8"/>
<rect x="68.40" y="374.41" width="9.50" height="4.99" fill="#e8bd1e"/>
<rect x="68.40" y="323.77" width="9.50" height="50.63" fill="#2e4b7c"/>
<rect x="68.40" y="311.95" width="9.50" height="11.83" fill="#c8c7cc"/>
<rect x="68.40" y="291.80" width="9.50" height="20.15" fill="#db8a16"/>
<line x1="73.15" y1="372.51" x2="73.15" y2="374.71" stroke="#222" stroke-width="0.8"/>
<line x1="72.15" y1="372.51" x2="74.15" y2="372.51" stroke="#222" stroke-width="0.9"/>
<line x1="73.15" y1="316.77" x2="73.15" y2="324.07" stroke="#222" stroke-width="0.8"/>
<line x1="72.15" y1="316.77" x2="74.15" y2="316.77" stroke="#222" stroke-width="0.9"/>
<line x1="73.15" y1="310.05" x2="73.15" y2="312.25" stroke="#222" stroke-width="0.8"/>
<line x1="72.15" y1="310.05" x2="74.15" y2="310.05" stroke="#222" stroke-width="0.9"/>
<line x1="73.15" y1="290.70" x2="73.15" y2="292.10" stroke="#222" stroke-width="0.8"/>
<line x1="72.15" y1="290.70" x2="74.15" y2="290.70" stroke="#222" stroke-width="0.9"/>
<rect x="91.90" y="373.79" width="9.50" height="5.61" fill="#e8bd1e"/>
<rect x="91.90" y="322.11" width="9.50" height="51.68" fill="#2e4b7c"/>
<rect x="91.90" y="310.02" width="9.50" height="12.09" fill="#c8c7cc"/>
<rect x="91.90" y="291.80" width="9.50" height="18.22" fill="#db8a16"/>
<line x1="96.65" y1="371.89" x2="96.65" y2="374.09" stroke="#222" stroke-width="0.8"/>
<line x1="95.65" y1="371.89" x2="97.65" y2="371.89" stroke="#222" stroke-width="0.9"/>
<line x1="96.65" y1="320.21" x2="96.65" y2="322.41" stroke="#222" stroke-width="0.8"/>
<line x1="95.65" y1="320.21" x2="97.65" y2="320.21" stroke="#222" stroke-width="0.9"/>
<line x1="96.65" y1="308.12" x2="96.65" y2="310.32" stroke="#222" stroke-width="0.8"/>
<line x1="95.65" y1="308.12" x2="97.65" y2="308.12" stroke="#222" stroke-width="0.9"/>
<line x1="96.65" y1="290.70" x2="96.65" y2="292.10" stroke="#222" stroke-width="0.8"/>
<line x1="95.65" y1="290.70" x2="97.65" y2="290.70" stroke="#222" stroke-width="0.9"/>
<rect x="115.40" y="360.04" width="9.50" height="19.36" fill="#e8bd1e"/>
<rect x="115.40" y="313.26" width="9.50" height="46.78" fill="#2e4b7c"/>
<rect x="115.40" y="303.71" width="9.50" height="9.55" fill="#c8c7cc"/>
<rect x="115.40" y="291.80" width="9.50" height="11.91" fill="#db8a16"/>
<line x1="120.15" y1="356.04" x2="120.15" y2="360.34" stroke="#222" stroke-width="0.8"/>
<line x1="119.15" y1="356.04" x2="121.15" y2="356.04" stroke="#222" stroke-width="0.9"/>
<line x1="120.15" y1="311.36" x2="120.15" y2="313.56" stroke="#222" stroke-width="0.8"/>
<line x1="119.15" y1="311.36" x2="121.15" y2="311.36" stroke="#222" stroke-width="0.9"/>
<line x1="120.15" y1="301.81" x2="120.15" y2="304.01" stroke="#222" stroke-width="0.8"/>
<line x1="119.15" y1="301.81" x2="121.15" y2="301.81" stroke="#222" stroke-width="0.9"/>
<line x1="120.15" y1="290.70" x2="120.15" y2="292.10" stroke="#222" stroke-width="0.8"/>
<line x1="119.15" y1="290.70" x2="121.15" y2="290.70" stroke="#222" stroke-width="0.9"/>
<rect x="138.90" y="360.04" width="9.50" height="19.36" fill="#e8bd1e"/>
<rect x="138.90" y="310.02" width="9.50" height="50.02" fill="#2e4b7c"/>
<rect x="138.90" y="302.66" width="9.50" height="7.36" fill="#c8c7cc"/>
<rect x="138.90" y="291.80" width="9.50" height="10.86" fill="#db8a16"/>
<line x1="143.65" y1="358.14" x2="143.65" y2="360.34" stroke="#222" stroke-width="0.8"/>
<line x1="142.65" y1="358.14" x2="144.65" y2="358.14" stroke="#222" stroke-width="0.9"/>
<line x1="143.65" y1="308.12" x2="143.65" y2="310.32" stroke="#222" stroke-width="0.8"/>
<line x1="142.65" y1="308.12" x2="144.65" y2="308.12" stroke="#222" stroke-width="0.9"/>
<line x1="143.65" y1="300.76" x2="143.65" y2="302.96" stroke="#222" stroke-width="0.8"/>
<line x1="142.65" y1="300.76" x2="144.65" y2="300.76" stroke="#222" stroke-width="0.9"/>
<line x1="143.65" y1="290.70" x2="143.65" y2="292.10" stroke="#222" stroke-width="0.8"/>
<line x1="142.65" y1="290.70" x2="144.65" y2="290.70" stroke="#222" stroke-width="0.9"/>
<rect x="162.40" y="373.79" width="9.50" height="5.61" fill="#e8bd1e"/>
<rect x="162.40" y="322.90" width="9.50" height="50.90" fill="#2e4b7c"/>
<rect x="162.40" y="311.95" width="9.50" height="10.95" fill="#c8c7cc"/>
<rect x="162.40" y="291.80" width="9.50" height="20.15" fill="#db8a16"/>
<line x1="167.15" y1="371.89" x2="167.15" y2="374.09" stroke="#222" stroke-width="0.8"/>
<line x1="166.15" y1="371.89" x2="168.15" y2="371.89" stroke="#222" stroke-width="0.9"/>
<line x1="167.15" y1="317.90" x2="167.15" y2="323.20" stroke="#222" stroke-width="0.8"/>
<line x1="166.15" y1="317.90" x2="168.15" y2="317.90" stroke="#222" stroke-width="0.9"/>
<line x1="167.15" y1="310.05" x2="167.15" y2="312.25" stroke="#222" stroke-width="0.8"/>
<line x1="166.15" y1="310.05" x2="168.15" y2="310.05" stroke="#222" stroke-width="0.9"/>
<line x1="167.15" y1="290.70" x2="167.15" y2="292.10" stroke="#222" stroke-width="0.8"/>
<line x1="166.15" y1="290.70" x2="168.15" y2="290.70" stroke="#222" stroke-width="0.9"/>
<rect x="185.90" y="373.97" width="9.50" height="5.43" fill="#e8bd1e"/>
<rect x="185.90" y="322.90" width="9.50" height="51.07" fill="#2e4b7c"/>
<rect x="185.90" y="311.51" width="9.50" height="11.39" fill="#c8c7cc"/>
<rect x="185.90" y="291.80" width="9.50" height="19.71" fill="#db8a16"/>
<line x1="190.65" y1="372.07" x2="190.65" y2="374.27" stroke="#222" stroke-width="0.8"/>
<line x1="189.65" y1="372.07" x2="191.65" y2="372.07" stroke="#222" stroke-width="0.9"/>
<line x1="190.65" y1="321.00" x2="190.65" y2="323.20" stroke="#222" stroke-width="0.8"/>
<line x1="189.65" y1="321.00" x2="191.65" y2="321.00" stroke="#222" stroke-width="0.9"/>
<line x1="190.65" y1="309.61" x2="190.65" y2="311.81" stroke="#222" stroke-width="0.8"/>
<line x1="189.65" y1="309.61" x2="191.65" y2="309.61" stroke="#222" stroke-width="0.9"/>
<line x1="190.65" y1="290.70" x2="190.65" y2="292.10" stroke="#222" stroke-width="0.8"/>
<line x1="189.65" y1="290.70" x2="191.65" y2="290.70" stroke="#222" stroke-width="0.9"/>
<rect x="209.40" y="360.57" width="9.50" height="18.83" fill="#e8bd1e"/>
<rect x="209.40" y="314.40" width="9.50" height="46.17" fill="#2e4b7c"/>
<rect x="209.40" y="303.80" width="9.50" height="10.60" fill="#c8c7cc"/>
<rect x="209.40" y="291.80" width="9.50" height="12.00" fill="#db8a16"/>
<line x1="214.15" y1="358.67" x2="214.15" y2="360.87" stroke="#222" stroke-width="0.8"/>
<line x1="213.15" y1="358.67" x2="215.15" y2="358.67" stroke="#222" stroke-width="0.9"/>
<line x1="214.15" y1="312.50" x2="214.15" y2="314.70" stroke="#222" stroke-width="0.8"/>
<line x1="213.15" y1="312.50" x2="215.15" y2="312.50" stroke="#222" stroke-width="0.9"/>
<line x1="214.15" y1="301.90" x2="214.15" y2="304.10" stroke="#222" stroke-width="0.8"/>
<line x1="213.15" y1="301.90" x2="215.15" y2="301.90" stroke="#222" stroke-width="0.9"/>
<line x1="214.15" y1="290.70" x2="214.15" y2="292.10" stroke="#222" stroke-width="0.8"/>
<line x1="213.15" y1="290.70" x2="215.15" y2="290.70" stroke="#222" stroke-width="0.9"/>
<rect x="232.90" y="360.04" width="9.50" height="19.36" fill="#e8bd1e"/>
<rect x="232.90" y="310.98" width="9.50" height="49.06" fill="#2e4b7c"/>
<rect x="232.90" y="302.93" width="9.50" height="8.06" fill="#c8c7cc"/>
<rect x="232.90" y="291.80" width="9.50" height="11.13" fill="#db8a16"/>
<line x1="237.65" y1="358.14" x2="237.65" y2="360.34" stroke="#222" stroke-width="0.8"/>
<line x1="236.65" y1="358.14" x2="238.65" y2="358.14" stroke="#222" stroke-width="0.9"/>
<line x1="237.65" y1="309.08" x2="237.65" y2="311.28" stroke="#222" stroke-width="0.8"/>
<line x1="236.65" y1="309.08" x2="238.65" y2="309.08" stroke="#222" stroke-width="0.9"/>
<line x1="237.65" y1="301.03" x2="237.65" y2="303.23" stroke="#222" stroke-width="0.8"/>
<line x1="236.65" y1="301.03" x2="238.65" y2="301.03" stroke="#222" stroke-width="0.9"/>
<line x1="237.65" y1="290.70" x2="237.65" y2="292.10" stroke="#222" stroke-width="0.8"/>
<line x1="236.65" y1="290.70" x2="238.65" y2="290.70" stroke="#222" stroke-width="0.9"/>
<line x1="61.50" y1="270.78" x2="61.50" y2="380.00" stroke="#000" stroke-width="1.25"/>
<line x1="60.80" y1="379.40" x2="250.00" y2="379.40" stroke="#000" stroke-width="1.3"/>
<line x1="61.40" y1="379.40" x2="61.40" y2="383.80" stroke="#000" stroke-width="1.1"/>
<line x1="84.90" y1="379.40" x2="84.90" y2="383.80" stroke="#000" stroke-width="1.1"/>
<line x1="108.40" y1="379.40" x2="108.40" y2="383.80" stroke="#000" stroke-width="1.1"/>
<line x1="131.90" y1="379.40" x2="131.90" y2="383.80" stroke="#000" stroke-width="1.1"/>
<line x1="155.40" y1="379.40" x2="155.40" y2="383.80" stroke="#000" stroke-width="1.1"/>
<line x1="178.90" y1="379.40" x2="178.90" y2="383.80" stroke="#000" stroke-width="1.1"/>
<line x1="202.40" y1="379.40" x2="202.40" y2="383.80" stroke="#000" stroke-width="1.1"/>
<line x1="225.90" y1="379.40" x2="225.90" y2="383.80" stroke="#000" stroke-width="1.1"/>
<line x1="249.40" y1="379.40" x2="249.40" y2="383.80" stroke="#000" stroke-width="1.1"/>
<line x1="57.30" y1="379.40" x2="61.50" y2="379.40" stroke="#000" stroke-width="1.1"/>
<text x="52.90" y="382.30" font-size="8.3" text-anchor="end" textLength="5.12" lengthAdjust="spacingAndGlyphs" fill="#111" stroke="#111" stroke-width="0.18">0</text>
<line x1="57.30" y1="361.88" x2="61.50" y2="361.88" stroke="#000" stroke-width="1.1"/>
<text x="52.90" y="364.78" font-size="8.3" text-anchor="end" textLength="10.25" lengthAdjust="spacingAndGlyphs" fill="#111" stroke="#111" stroke-width="0.18">20</text>
<line x1="57.30" y1="344.36" x2="61.50" y2="344.36" stroke="#000" stroke-width="1.1"/>
<text x="52.90" y="347.26" font-size="8.3" text-anchor="end" textLength="10.25" lengthAdjust="spacingAndGlyphs" fill="#111" stroke="#111" stroke-width="0.18">40</text>
<line x1="57.30" y1="326.84" x2="61.50" y2="326.84" stroke="#000" stroke-width="1.1"/>
<text x="52.90" y="329.74" font-size="8.3" text-anchor="end" textLength="10.25" lengthAdjust="spacingAndGlyphs" fill="#111" stroke="#111" stroke-width="0.18">60</text>
<line x1="57.30" y1="309.32" x2="61.50" y2="309.32" stroke="#000" stroke-width="1.1"/>
<text x="52.90" y="312.22" font-size="8.3" text-anchor="end" textLength="10.25" lengthAdjust="spacingAndGlyphs" fill="#111" stroke="#111" stroke-width="0.18">80</text>
<line x1="57.30" y1="291.80" x2="61.50" y2="291.80" stroke="#000" stroke-width="1.1"/>
<text x="52.90" y="294.70" font-size="8.3" text-anchor="end" textLength="15.37" lengthAdjust="spacingAndGlyphs" fill="#111" stroke="#111" stroke-width="0.18">100</text>
<line x1="57.30" y1="274.28" x2="61.50" y2="274.28" stroke="#000" stroke-width="1.1"/>
<text x="52.90" y="277.18" font-size="8.3" text-anchor="end" textLength="15.37" lengthAdjust="spacingAndGlyphs" fill="#111" stroke="#111" stroke-width="0.18">120</text>
<text x="154.55" y="263.80" font-size="9" text-anchor="middle" textLength="33.90" lengthAdjust="spacingAndGlyphs" fill="#111" stroke="#111" stroke-width="0.18">OCI-LY-1</text>
<text x="52.70" y="395.60" font-size="8.6" text-anchor="end" textLength="35.40" lengthAdjust="spacingAndGlyphs" fill="#111" stroke="#111" stroke-width="0.18">Vitamin E</text>
<text x="52.70" y="406.30" font-size="8.6" text-anchor="end" textLength="43.00" lengthAdjust="spacingAndGlyphs" fill="#111" stroke="#111" stroke-width="0.18">Pracinostat</text>
<text x="52.70" y="417.00" font-size="8.6" text-anchor="end" textLength="20.00" lengthAdjust="spacingAndGlyphs" fill="#111" stroke="#111" stroke-width="0.18">BSO</text>
<rect x="72.15" y="392.65" width="2.00" height="1.10" fill="#333"/>
<rect x="72.15" y="403.35" width="2.00" height="1.10" fill="#333"/>
<rect x="72.15" y="414.05" width="2.00" height="1.10" fill="#333"/>
<path d="M94.25,393.20H99.05M96.65,390.90V395.50" stroke="#222" stroke-width="1.0" fill="none"/>
<rect x="95.65" y="403.35" width="2.00" height="1.10" fill="#333"/>
<rect x="95.65" y="414.05" width="2.00" height="1.10" fill="#333"/>
<rect x="119.15" y="392.65" width="2.00" height="1.10" fill="#333"/>
<path d="M117.75,403.90H122.55M120.15,401.60V406.20" stroke="#222" stroke-width="1.0" fill="none"/>
<rect x="119.15" y="414.05" width="2.00" height="1.10" fill="#333"/>
<path d="M141.25,393.20H146.05M143.65,390.90V395.50" stroke="#222" stroke-width="1.0" fill="none"/>
<path d="M141.25,403.90H146.05M143.65,401.60V406.20" stroke="#222" stroke-width="1.0" fill="none"/>
<rect x="142.65" y="414.05" width="2.00" height="1.10" fill="#333"/>
<rect x="166.15" y="392.65" width="2.00" height="1.10" fill="#333"/>
<rect x="166.15" y="403.35" width="2.00" height="1.10" fill="#333"/>
<path d="M164.75,414.60H169.55M167.15,412.30V416.90" stroke="#222" stroke-width="1.0" fill="none"/>
<path d="M188.25,393.20H193.05M190.65,390.90V395.50" stroke="#222" stroke-width="1.0" fill="none"/>
<rect x="189.65" y="403.35" width="2.00" height="1.10" fill="#333"/>
<path d="M188.25,414.60H193.05M190.65,412.30V416.90" stroke="#222" stroke-width="1.0" fill="none"/>
<rect x="213.15" y="392.65" width="2.00" height="1.10" fill="#333"/>
<path d="M211.75,403.90H216.55M214.15,401.60V406.20" stroke="#222" stroke-width="1.0" fill="none"/>
<path d="M211.75,414.60H216.55M214.15,412.30V416.90" stroke="#222" stroke-width="1.0" fill="none"/>
<path d="M235.25,393.20H240.05M237.65,390.90V395.50" stroke="#222" stroke-width="1.0" fill="none"/>
<path d="M235.25,403.90H240.05M237.65,401.60V406.20" stroke="#222" stroke-width="1.0" fill="none"/>
<path d="M235.25,414.60H240.05M237.65,412.30V416.90" stroke="#222" stroke-width="1.0" fill="none"/>
<rect x="68.40" y="548.97" width="9.50" height="6.03" fill="#e8bd1e"/>
<rect x="68.40" y="506.72" width="9.50" height="42.24" fill="#2e4b7c"/>
<rect x="68.40" y="495.77" width="9.50" height="10.96" fill="#c8c7cc"/>
<rect x="68.40" y="476.00" width="9.50" height="19.77" fill="#db8a16"/>
<line x1="73.15" y1="547.07" x2="73.15" y2="549.27" stroke="#222" stroke-width="0.8"/>
<line x1="72.15" y1="547.07" x2="74.15" y2="547.07" stroke="#222" stroke-width="0.9"/>
<line x1="73.15" y1="504.82" x2="73.15" y2="507.02" stroke="#222" stroke-width="0.8"/>
<line x1="72.15" y1="504.82" x2="74.15" y2="504.82" stroke="#222" stroke-width="0.9"/>
<line x1="73.15" y1="493.87" x2="73.15" y2="496.07" stroke="#222" stroke-width="0.8"/>
<line x1="72.15" y1="493.87" x2="74.15" y2="493.87" stroke="#222" stroke-width="0.9"/>
<line x1="73.15" y1="474.90" x2="73.15" y2="476.30" stroke="#222" stroke-width="0.8"/>
<line x1="72.15" y1="474.90" x2="74.15" y2="474.90" stroke="#222" stroke-width="0.9"/>
<rect x="91.90" y="553.09" width="9.50" height="1.91" fill="#e8bd1e"/>
<rect x="91.90" y="506.88" width="9.50" height="46.21" fill="#2e4b7c"/>
<rect x="91.90" y="495.77" width="9.50" height="11.12" fill="#c8c7cc"/>
<rect x="91.90" y="475.60" width="9.50" height="20.17" fill="#db8a16"/>
<line x1="96.65" y1="551.19" x2="96.65" y2="553.39" stroke="#222" stroke-width="0.8"/>
<line x1="95.65" y1="551.19" x2="97.65" y2="551.19" stroke="#222" stroke-width="0.9"/>
<line x1="96.65" y1="504.98" x2="96.65" y2="507.18" stroke="#222" stroke-width="0.8"/>
<line x1="95.65" y1="504.98" x2="97.65" y2="504.98" stroke="#222" stroke-width="0.9"/>
<line x1="96.65" y1="491.77" x2="96.65" y2="496.07" stroke="#222" stroke-width="0.8"/>
<line x1="95.65" y1="491.77" x2="97.65" y2="491.77" stroke="#222" stroke-width="0.9"/>
<line x1="96.65" y1="471.60" x2="96.65" y2="475.90" stroke="#222" stroke-width="0.8"/>
<line x1="95.65" y1="471.60" x2="97.65" y2="471.60" stroke="#222" stroke-width="0.9"/>
<rect x="115.40" y="512.68" width="9.50" height="42.32" fill="#e8bd1e"/>
<rect x="115.40" y="484.18" width="9.50" height="28.50" fill="#2e4b7c"/>
<rect x="115.40" y="479.97" width="9.50" height="4.21" fill="#c8c7cc"/>
<rect x="115.40" y="475.60" width="9.50" height="4.37" fill="#db8a16"/>
<line x1="120.15" y1="510.78" x2="120.15" y2="512.98" stroke="#222" stroke-width="0.8"/>
<line x1="119.15" y1="510.78" x2="121.15" y2="510.78" stroke="#222" stroke-width="0.9"/>
<line x1="120.15" y1="482.28" x2="120.15" y2="484.48" stroke="#222" stroke-width="0.8"/>
<line x1="119.15" y1="482.28" x2="121.15" y2="482.28" stroke="#222" stroke-width="0.9"/>
<line x1="120.15" y1="478.07" x2="120.15" y2="480.27" stroke="#222" stroke-width="0.8"/>
<line x1="119.15" y1="478.07" x2="121.15" y2="478.07" stroke="#222" stroke-width="0.9"/>
<line x1="120.15" y1="474.50" x2="120.15" y2="475.90" stroke="#222" stroke-width="0.8"/>
<line x1="119.15" y1="474.50" x2="121.15" y2="474.50" stroke="#222" stroke-width="0.9"/>
<rect x="138.90" y="543.80" width="9.50" height="11.20" fill="#e8bd1e"/>
<rect x="138.90" y="494.18" width="9.50" height="49.62" fill="#2e4b7c"/>
<rect x="138.90" y="487.67" width="9.50" height="6.51" fill="#c8c7cc"/>
<rect x="138.90" y="475.60" width="9.50" height="12.07" fill="#db8a16"/>
<line x1="143.65" y1="541.90" x2="143.65" y2="544.10" stroke="#222" stroke-width="0.8"/>
<line x1="142.65" y1="541.90" x2="144.65" y2="541.90" stroke="#222" stroke-width="0.9"/>
<line x1="143.65" y1="492.28" x2="143.65" y2="494.48" stroke="#222" stroke-width="0.8"/>
<line x1="142.65" y1="492.28" x2="144.65" y2="492.28" stroke="#222" stroke-width="0.9"/>
<line x1="143.65" y1="485.77" x2="143.65" y2="487.97" stroke="#222" stroke-width="0.8"/>
<line x1="142.65" y1="485.77" x2="144.65" y2="485.77" stroke="#222" stroke-width="0.9"/>
<line x1="143.65" y1="474.50" x2="143.65" y2="475.90" stroke="#222" stroke-width="0.8"/>
<line x1="142.65" y1="474.50" x2="144.65" y2="474.50" stroke="#222" stroke-width="0.9"/>
<rect x="162.40" y="531.34" width="9.50" height="23.66" fill="#e8bd1e"/>
<rect x="162.40" y="492.51" width="9.50" height="38.83" fill="#2e4b7c"/>
<rect x="162.40" y="485.76" width="9.50" height="6.75" fill="#c8c7cc"/>
<rect x="162.40" y="475.60" width="9.50" height="10.16" fill="#db8a16"/>
<line x1="167.15" y1="521.34" x2="167.15" y2="531.64" stroke="#222" stroke-width="0.8"/>
<line x1="166.15" y1="521.34" x2="168.15" y2="521.34" stroke="#222" stroke-width="0.9"/>
<line x1="167.15" y1="490.61" x2="167.15" y2="492.81" stroke="#222" stroke-width="0.8"/>
<line x1="166.15" y1="490.61" x2="168.15" y2="490.61" stroke="#222" stroke-width="0.9"/>
<line x1="167.15" y1="483.86" x2="167.15" y2="486.06" stroke="#222" stroke-width="0.8"/>
<line x1="166.15" y1="483.86" x2="168.15" y2="483.86" stroke="#222" stroke-width="0.9"/>
<line x1="167.15" y1="469.60" x2="167.15" y2="475.90" stroke="#222" stroke-width="0.8"/>
<line x1="166.15" y1="469.60" x2="168.15" y2="469.60" stroke="#222" stroke-width="0.9"/>
<rect x="185.90" y="552.54" width="9.50" height="2.46" fill="#e8bd1e"/>
<rect x="185.90" y="506.72" width="9.50" height="45.81" fill="#2e4b7c"/>
<rect x="185.90" y="495.37" width="9.50" height="11.35" fill="#c8c7cc"/>
<rect x="185.90" y="475.60" width="9.50" height="19.77" fill="#db8a16"/>
<line x1="190.65" y1="550.64" x2="190.65" y2="552.84" stroke="#222" stroke-width="0.8"/>
<line x1="189.65" y1="550.64" x2="191.65" y2="550.64" stroke="#222" stroke-width="0.9"/>
<line x1="190.65" y1="504.82" x2="190.65" y2="507.02" stroke="#222" stroke-width="0.8"/>
<line x1="189.65" y1="504.82" x2="191.65" y2="504.82" stroke="#222" stroke-width="0.9"/>
<line x1="190.65" y1="493.47" x2="190.65" y2="495.67" stroke="#222" stroke-width="0.8"/>
<line x1="189.65" y1="493.47" x2="191.65" y2="493.47" stroke="#222" stroke-width="0.9"/>
<line x1="190.65" y1="474.50" x2="190.65" y2="475.90" stroke="#222" stroke-width="0.8"/>
<line x1="189.65" y1="474.50" x2="191.65" y2="474.50" stroke="#222" stroke-width="0.9"/>
<rect x="209.40" y="507.92" width="9.50" height="47.08" fill="#e8bd1e"/>
<rect x="209.40" y="485.60" width="9.50" height="22.31" fill="#2e4b7c"/>
<rect x="209.40" y="478.78" width="9.50" height="6.83" fill="#c8c7cc"/>
<rect x="209.40" y="475.60" width="9.50" height="3.18" fill="#db8a16"/>
<line x1="214.15" y1="506.02" x2="214.15" y2="508.22" stroke="#222" stroke-width="0.8"/>
<line x1="213.15" y1="506.02" x2="215.15" y2="506.02" stroke="#222" stroke-width="0.9"/>
<line x1="214.15" y1="483.70" x2="214.15" y2="485.90" stroke="#222" stroke-width="0.8"/>
<line x1="213.15" y1="483.70" x2="215.15" y2="483.70" stroke="#222" stroke-width="0.9"/>
<line x1="214.15" y1="476.88" x2="214.15" y2="479.08" stroke="#222" stroke-width="0.8"/>
<line x1="213.15" y1="476.88" x2="215.15" y2="476.88" stroke="#222" stroke-width="0.9"/>
<line x1="214.15" y1="474.50" x2="214.15" y2="475.90" stroke="#222" stroke-width="0.8"/>
<line x1="213.15" y1="474.50" x2="215.15" y2="474.50" stroke="#222" stroke-width="0.9"/>
<rect x="232.90" y="543.33" width="9.50" height="11.67" fill="#e8bd1e"/>
<rect x="232.90" y="494.81" width="9.50" height="48.51" fill="#2e4b7c"/>
<rect x="232.90" y="486.72" width="9.50" height="8.10" fill="#c8c7cc"/>
<rect x="232.90" y="475.60" width="9.50" height="11.12" fill="#db8a16"/>
<line x1="237.65" y1="541.43" x2="237.65" y2="543.63" stroke="#222" stroke-width="0.8"/>
<line x1="236.65" y1="541.43" x2="238.65" y2="541.43" stroke="#222" stroke-width="0.9"/>
<line x1="237.65" y1="492.91" x2="237.65" y2="495.11" stroke="#222" stroke-width="0.8"/>
<line x1="236.65" y1="492.91" x2="238.65" y2="492.91" stroke="#222" stroke-width="0.9"/>
<line x1="237.65" y1="484.82" x2="237.65" y2="487.02" stroke="#222" stroke-width="0.8"/>
<line x1="236.65" y1="484.82" x2="238.65" y2="484.82" stroke="#222" stroke-width="0.9"/>
<line x1="237.65" y1="474.50" x2="237.65" y2="475.90" stroke="#222" stroke-width="0.8"/>
<line x1="236.65" y1="474.50" x2="238.65" y2="474.50" stroke="#222" stroke-width="0.9"/>
<line x1="61.50" y1="456.22" x2="61.50" y2="555.60" stroke="#000" stroke-width="1.25"/>
<line x1="60.80" y1="555.00" x2="250.00" y2="555.00" stroke="#000" stroke-width="1.3"/>
<line x1="61.40" y1="555.00" x2="61.40" y2="559.40" stroke="#000" stroke-width="1.1"/>
<line x1="84.90" y1="555.00" x2="84.90" y2="559.40" stroke="#000" stroke-width="1.1"/>
<line x1="108.40" y1="555.00" x2="108.40" y2="559.40" stroke="#000" stroke-width="1.1"/>
<line x1="131.90" y1="555.00" x2="131.90" y2="559.40" stroke="#000" stroke-width="1.1"/>
<line x1="155.40" y1="555.00" x2="155.40" y2="559.40" stroke="#000" stroke-width="1.1"/>
<line x1="178.90" y1="555.00" x2="178.90" y2="559.40" stroke="#000" stroke-width="1.1"/>
<line x1="202.40" y1="555.00" x2="202.40" y2="559.40" stroke="#000" stroke-width="1.1"/>
<line x1="225.90" y1="555.00" x2="225.90" y2="559.40" stroke="#000" stroke-width="1.1"/>
<line x1="249.40" y1="555.00" x2="249.40" y2="559.40" stroke="#000" stroke-width="1.1"/>
<line x1="57.30" y1="555.00" x2="61.50" y2="555.00" stroke="#000" stroke-width="1.1"/>
<text x="52.90" y="557.90" font-size="8.3" text-anchor="end" textLength="5.12" lengthAdjust="spacingAndGlyphs" fill="#111" stroke="#111" stroke-width="0.18">0</text>
<line x1="57.30" y1="539.12" x2="61.50" y2="539.12" stroke="#000" stroke-width="1.1"/>
<text x="52.90" y="542.02" font-size="8.3" text-anchor="end" textLength="10.25" lengthAdjust="spacingAndGlyphs" fill="#111" stroke="#111" stroke-width="0.18">20</text>
<line x1="57.30" y1="523.24" x2="61.50" y2="523.24" stroke="#000" stroke-width="1.1"/>
<text x="52.90" y="526.14" font-size="8.3" text-anchor="end" textLength="10.25" lengthAdjust="spacingAndGlyphs" fill="#111" stroke="#111" stroke-width="0.18">40</text>
<line x1="57.30" y1="507.36" x2="61.50" y2="507.36" stroke="#000" stroke-width="1.1"/>
<text x="52.90" y="510.26" font-size="8.3" text-anchor="end" textLength="10.25" lengthAdjust="spacingAndGlyphs" fill="#111" stroke="#111" stroke-width="0.18">60</text>
<line x1="57.30" y1="491.48" x2="61.50" y2="491.48" stroke="#000" stroke-width="1.1"/>
<text x="52.90" y="494.38" font-size="8.3" text-anchor="end" textLength="10.25" lengthAdjust="spacingAndGlyphs" fill="#111" stroke="#111" stroke-width="0.18">80</text>
<line x1="57.30" y1="475.60" x2="61.50" y2="475.60" stroke="#000" stroke-width="1.1"/>
<text x="52.90" y="478.50" font-size="8.3" text-anchor="end" textLength="15.37" lengthAdjust="spacingAndGlyphs" fill="#111" stroke="#111" stroke-width="0.18">100</text>
<line x1="57.30" y1="459.72" x2="61.50" y2="459.72" stroke="#000" stroke-width="1.1"/>
<text x="52.90" y="462.62" font-size="8.3" text-anchor="end" textLength="15.37" lengthAdjust="spacingAndGlyphs" fill="#111" stroke="#111" stroke-width="0.18">120</text>
<text x="157.30" y="440.40" font-size="9" text-anchor="middle" textLength="40.80" lengthAdjust="spacingAndGlyphs" fill="#111" stroke="#111" stroke-width="0.18">SU-DHL-6</text>
<text x="52.70" y="571.20" font-size="8.6" text-anchor="end" textLength="35.40" lengthAdjust="spacingAndGlyphs" fill="#111" stroke="#111" stroke-width="0.18">Vitamin E</text>
<text x="52.70" y="581.90" font-size="8.6" text-anchor="end" textLength="43.00" lengthAdjust="spacingAndGlyphs" fill="#111" stroke="#111" stroke-width="0.18">Pracinostat</text>
<text x="52.70" y="592.60" font-size="8.6" text-anchor="end" textLength="20.00" lengthAdjust="spacingAndGlyphs" fill="#111" stroke="#111" stroke-width="0.18">BSO</text>
<rect x="72.15" y="568.25" width="2.00" height="1.10" fill="#333"/>
<rect x="72.15" y="578.95" width="2.00" height="1.10" fill="#333"/>
<rect x="72.15" y="589.65" width="2.00" height="1.10" fill="#333"/>
<path d="M94.25,568.80H99.05M96.65,566.50V571.10" stroke="#222" stroke-width="1.0" fill="none"/>
<rect x="95.65" y="578.95" width="2.00" height="1.10" fill="#333"/>
<rect x="95.65" y="589.65" width="2.00" height="1.10" fill="#333"/>
<rect x="119.15" y="568.25" width="2.00" height="1.10" fill="#333"/>
<path d="M117.75,579.50H122.55M120.15,577.20V581.80" stroke="#222" stroke-width="1.0" fill="none"/>
<rect x="119.15" y="589.65" width="2.00" height="1.10" fill="#333"/>
<path d="M141.25,568.80H146.05M143.65,566.50V571.10" stroke="#222" stroke-width="1.0" fill="none"/>
<path d="M141.25,579.50H146.05M143.65,577.20V581.80" stroke="#222" stroke-width="1.0" fill="none"/>
<rect x="142.65" y="589.65" width="2.00" height="1.10" fill="#333"/>
<rect x="166.15" y="568.25" width="2.00" height="1.10" fill="#333"/>
<rect x="166.15" y="578.95" width="2.00" height="1.10" fill="#333"/>
<path d="M164.75,590.20H169.55M167.15,587.90V592.50" stroke="#222" stroke-width="1.0" fill="none"/>
<path d="M188.25,568.80H193.05M190.65,566.50V571.10" stroke="#222" stroke-width="1.0" fill="none"/>
<rect x="189.65" y="578.95" width="2.00" height="1.10" fill="#333"/>
<path d="M188.25,590.20H193.05M190.65,587.90V592.50" stroke="#222" stroke-width="1.0" fill="none"/>
<rect x="213.15" y="568.25" width="2.00" height="1.10" fill="#333"/>
<path d="M211.75,579.50H216.55M214.15,577.20V581.80" stroke="#222" stroke-width="1.0" fill="none"/>
<path d="M211.75,590.20H216.55M214.15,587.90V592.50" stroke="#222" stroke-width="1.0" fill="none"/>
<path d="M235.25,568.80H240.05M237.65,566.50V571.10" stroke="#222" stroke-width="1.0" fill="none"/>
<path d="M235.25,579.50H240.05M237.65,577.20V581.80" stroke="#222" stroke-width="1.0" fill="none"/>
<path d="M235.25,590.20H240.05M237.65,587.90V592.50" stroke="#222" stroke-width="1.0" fill="none"/>
<rect x="68.40" y="718.72" width="9.50" height="5.08" fill="#e8bd1e"/>
<rect x="68.40" y="673.12" width="9.50" height="45.60" fill="#2e4b7c"/>
<rect x="68.40" y="665.43" width="9.50" height="7.69" fill="#c8c7cc"/>
<rect x="68.40" y="647.13" width="9.50" height="18.30" fill="#db8a16"/>
<line x1="73.15" y1="716.82" x2="73.15" y2="719.02" stroke="#222" stroke-width="0.8"/>
<line x1="72.15" y1="716.82" x2="74.15" y2="716.82" stroke="#222" stroke-width="0.9"/>
<line x1="73.15" y1="671.22" x2="73.15" y2="673.42" stroke="#222" stroke-width="0.8"/>
<line x1="72.15" y1="671.22" x2="74.15" y2="671.22" stroke="#222" stroke-width="0.9"/>
<line x1="73.15" y1="663.53" x2="73.15" y2="665.73" stroke="#222" stroke-width="0.8"/>
<line x1="72.15" y1="663.53" x2="74.15" y2="663.53" stroke="#222" stroke-width="0.9"/>
<line x1="73.15" y1="646.03" x2="73.15" y2="647.43" stroke="#222" stroke-width="0.8"/>
<line x1="72.15" y1="646.03" x2="74.15" y2="646.03" stroke="#222" stroke-width="0.9"/>
<rect x="91.90" y="718.11" width="9.50" height="5.69" fill="#e8bd1e"/>
<rect x="91.90" y="673.12" width="9.50" height="44.99" fill="#2e4b7c"/>
<rect x="91.90" y="665.43" width="9.50" height="7.69" fill="#c8c7cc"/>
<rect x="91.90" y="646.90" width="9.50" height="18.53" fill="#db8a16"/>
<line x1="96.65" y1="716.21" x2="96.65" y2="718.41" stroke="#222" stroke-width="0.8"/>
<line x1="95.65" y1="716.21" x2="97.65" y2="716.21" stroke="#222" stroke-width="0.9"/>
<line x1="96.65" y1="671.22" x2="96.65" y2="673.42" stroke="#222" stroke-width="0.8"/>
<line x1="95.65" y1="671.22" x2="97.65" y2="671.22" stroke="#222" stroke-width="0.9"/>
<line x1="96.65" y1="663.53" x2="96.65" y2="665.73" stroke="#222" stroke-width="0.8"/>
<line x1="95.65" y1="663.53" x2="97.65" y2="663.53" stroke="#222" stroke-width="0.9"/>
<line x1="96.65" y1="645.80" x2="96.65" y2="647.20" stroke="#222" stroke-width="0.8"/>
<line x1="95.65" y1="645.80" x2="97.65" y2="645.80" stroke="#222" stroke-width="0.9"/>
<rect x="115.40" y="707.73" width="9.50" height="16.07" fill="#e8bd1e"/>
<rect x="115.40" y="667.66" width="9.50" height="40.06" fill="#2e4b7c"/>
<rect x="115.40" y="659.97" width="9.50" height="7.69" fill="#c8c7cc"/>
<rect x="115.40" y="646.90" width="9.50" height="13.07" fill="#db8a16"/>
<line x1="120.15" y1="702.23" x2="120.15" y2="708.03" stroke="#222" stroke-width="0.8"/>
<line x1="119.15" y1="702.23" x2="121.15" y2="702.23" stroke="#222" stroke-width="0.9"/>
<line x1="120.15" y1="665.76" x2="120.15" y2="667.96" stroke="#222" stroke-width="0.8"/>
<line x1="119.15" y1="665.76" x2="121.15" y2="665.76" stroke="#222" stroke-width="0.9"/>
<line x1="120.15" y1="658.07" x2="120.15" y2="660.27" stroke="#222" stroke-width="0.8"/>
<line x1="119.15" y1="658.07" x2="121.15" y2="658.07" stroke="#222" stroke-width="0.9"/>
<line x1="120.15" y1="645.80" x2="120.15" y2="647.20" stroke="#222" stroke-width="0.8"/>
<line x1="119.15" y1="645.80" x2="121.15" y2="645.80" stroke="#222" stroke-width="0.9"/>
<rect x="138.90" y="707.73" width="9.50" height="16.07" fill="#e8bd1e"/>
<rect x="138.90" y="668.12" width="9.50" height="39.60" fill="#2e4b7c"/>
<rect x="138.90" y="660.43" width="9.50" height="7.69" fill="#c8c7cc"/>
<rect x="138.90" y="647.67" width="9.50" height="12.77" fill="#db8a16"/>
<line x1="143.65" y1="700.23" x2="143.65" y2="708.03" stroke="#222" stroke-width="0.8"/>
<line x1="142.65" y1="700.23" x2="144.65" y2="700.23" stroke="#222" stroke-width="0.9"/>
<line x1="143.65" y1="666.22" x2="143.65" y2="668.42" stroke="#222" stroke-width="0.8"/>
<line x1="142.65" y1="666.22" x2="144.65" y2="666.22" stroke="#222" stroke-width="0.9"/>
<line x1="143.65" y1="658.53" x2="143.65" y2="660.73" stroke="#222" stroke-width="0.8"/>
<line x1="142.65" y1="658.53" x2="144.65" y2="658.53" stroke="#222" stroke-width="0.9"/>
<line x1="143.65" y1="643.67" x2="143.65" y2="647.97" stroke="#222" stroke-width="0.8"/>
<line x1="142.65" y1="643.67" x2="144.65" y2="643.67" stroke="#222" stroke-width="0.9"/>
<rect x="162.40" y="718.11" width="9.50" height="5.69" fill="#e8bd1e"/>
<rect x="162.40" y="672.51" width="9.50" height="45.60" fill="#2e4b7c"/>
<rect x="162.40" y="664.43" width="9.50" height="8.07" fill="#c8c7cc"/>
<rect x="162.40" y="647.13" width="9.50" height="17.30" fill="#db8a16"/>
<line x1="167.15" y1="716.21" x2="167.15" y2="718.41" stroke="#222" stroke-width="0.8"/>
<line x1="166.15" y1="716.21" x2="168.15" y2="716.21" stroke="#222" stroke-width="0.9"/>
<line x1="167.15" y1="670.61" x2="167.15" y2="672.81" stroke="#222" stroke-width="0.8"/>
<line x1="166.15" y1="670.61" x2="168.15" y2="670.61" stroke="#222" stroke-width="0.9"/>
<line x1="167.15" y1="662.53" x2="167.15" y2="664.73" stroke="#222" stroke-width="0.8"/>
<line x1="166.15" y1="662.53" x2="168.15" y2="662.53" stroke="#222" stroke-width="0.9"/>
<line x1="167.15" y1="646.03" x2="167.15" y2="647.43" stroke="#222" stroke-width="0.8"/>
<line x1="166.15" y1="646.03" x2="168.15" y2="646.03" stroke="#222" stroke-width="0.9"/>
<rect x="185.90" y="718.26" width="9.50" height="5.54" fill="#e8bd1e"/>
<rect x="185.90" y="673.51" width="9.50" height="44.76" fill="#2e4b7c"/>
<rect x="185.90" y="663.82" width="9.50" height="9.69" fill="#c8c7cc"/>
<rect x="185.90" y="646.90" width="9.50" height="16.92" fill="#db8a16"/>
<line x1="190.65" y1="716.36" x2="190.65" y2="718.56" stroke="#222" stroke-width="0.8"/>
<line x1="189.65" y1="716.36" x2="191.65" y2="716.36" stroke="#222" stroke-width="0.9"/>
<line x1="190.65" y1="671.61" x2="190.65" y2="673.81" stroke="#222" stroke-width="0.8"/>
<line x1="189.65" y1="671.61" x2="191.65" y2="671.61" stroke="#222" stroke-width="0.9"/>
<line x1="190.65" y1="661.92" x2="190.65" y2="664.12" stroke="#222" stroke-width="0.8"/>
<line x1="189.65" y1="661.92" x2="191.65" y2="661.92" stroke="#222" stroke-width="0.9"/>
<line x1="190.65" y1="645.80" x2="190.65" y2="647.20" stroke="#222" stroke-width="0.8"/>
<line x1="189.65" y1="645.80" x2="191.65" y2="645.80" stroke="#222" stroke-width="0.9"/>
<rect x="209.40" y="709.57" width="9.50" height="14.23" fill="#e8bd1e"/>
<rect x="209.40" y="667.66" width="9.50" height="41.91" fill="#2e4b7c"/>
<rect x="209.40" y="659.97" width="9.50" height="7.69" fill="#c8c7cc"/>
<rect x="209.40" y="646.90" width="9.50" height="13.07" fill="#db8a16"/>
<line x1="214.15" y1="707.67" x2="214.15" y2="709.87" stroke="#222" stroke-width="0.8"/>
<line x1="213.15" y1="707.67" x2="215.15" y2="707.67" stroke="#222" stroke-width="0.9"/>
<line x1="214.15" y1="665.76" x2="214.15" y2="667.96" stroke="#222" stroke-width="0.8"/>
<line x1="213.15" y1="665.76" x2="215.15" y2="665.76" stroke="#222" stroke-width="0.9"/>
<line x1="214.15" y1="658.07" x2="214.15" y2="660.27" stroke="#222" stroke-width="0.8"/>
<line x1="213.15" y1="658.07" x2="215.15" y2="658.07" stroke="#222" stroke-width="0.9"/>
<line x1="214.15" y1="645.80" x2="214.15" y2="647.20" stroke="#222" stroke-width="0.8"/>
<line x1="213.15" y1="645.80" x2="215.15" y2="645.80" stroke="#222" stroke-width="0.9"/>
<rect x="232.90" y="710.42" width="9.50" height="13.38" fill="#e8bd1e"/>
<rect x="232.90" y="667.28" width="9.50" height="43.14" fill="#2e4b7c"/>
<rect x="232.90" y="659.97" width="9.50" height="7.31" fill="#c8c7cc"/>
<rect x="232.90" y="646.90" width="9.50" height="13.07" fill="#db8a16"/>
<line x1="237.65" y1="708.52" x2="237.65" y2="710.72" stroke="#222" stroke-width="0.8"/>
<line x1="236.65" y1="708.52" x2="238.65" y2="708.52" stroke="#222" stroke-width="0.9"/>
<line x1="237.65" y1="665.38" x2="237.65" y2="667.58" stroke="#222" stroke-width="0.8"/>
<line x1="236.65" y1="665.38" x2="238.65" y2="665.38" stroke="#222" stroke-width="0.9"/>
<line x1="237.65" y1="658.07" x2="237.65" y2="660.27" stroke="#222" stroke-width="0.8"/>
<line x1="236.65" y1="658.07" x2="238.65" y2="658.07" stroke="#222" stroke-width="0.9"/>
<line x1="237.65" y1="645.80" x2="237.65" y2="647.20" stroke="#222" stroke-width="0.8"/>
<line x1="236.65" y1="645.80" x2="238.65" y2="645.80" stroke="#222" stroke-width="0.9"/>
<line x1="61.50" y1="628.02" x2="61.50" y2="724.40" stroke="#000" stroke-width="1.25"/>
<line x1="60.80" y1="723.80" x2="250.00" y2="723.80" stroke="#000" stroke-width="1.3"/>
<line x1="61.40" y1="723.80" x2="61.40" y2="728.20" stroke="#000" stroke-width="1.1"/>
<line x1="84.90" y1="723.80" x2="84.90" y2="728.20" stroke="#000" stroke-width="1.1"/>
<line x1="108.40" y1="723.80" x2="108.40" y2="728.20" stroke="#000" stroke-width="1.1"/>
<line x1="131.90" y1="723.80" x2="131.90" y2="728.20" stroke="#000" stroke-width="1.1"/>
<line x1="155.40" y1="723.80" x2="155.40" y2="728.20" stroke="#000" stroke-width="1.1"/>
<line x1="178.90" y1="723.80" x2="178.90" y2="728.20" stroke="#000" stroke-width="1.1"/>
<line x1="202.40" y1="723.80" x2="202.40" y2="728.20" stroke="#000" stroke-width="1.1"/>
<line x1="225.90" y1="723.80" x2="225.90" y2="728.20" stroke="#000" stroke-width="1.1"/>
<line x1="249.40" y1="723.80" x2="249.40" y2="728.20" stroke="#000" stroke-width="1.1"/>
<line x1="57.30" y1="723.80" x2="61.50" y2="723.80" stroke="#000" stroke-width="1.1"/>
<text x="52.90" y="726.70" font-size="8.3" text-anchor="end" textLength="5.12" lengthAdjust="spacingAndGlyphs" fill="#111" stroke="#111" stroke-width="0.18">0</text>
<line x1="57.30" y1="708.42" x2="61.50" y2="708.42" stroke="#000" stroke-width="1.1"/>
<text x="52.90" y="711.32" font-size="8.3" text-anchor="end" textLength="10.25" lengthAdjust="spacingAndGlyphs" fill="#111" stroke="#111" stroke-width="0.18">20</text>
<line x1="57.30" y1="693.04" x2="61.50" y2="693.04" stroke="#000" stroke-width="1.1"/>
<text x="52.90" y="695.94" font-size="8.3" text-anchor="end" textLength="10.25" lengthAdjust="spacingAndGlyphs" fill="#111" stroke="#111" stroke-width="0.18">40</text>
<line x1="57.30" y1="677.66" x2="61.50" y2="677.66" stroke="#000" stroke-width="1.1"/>
<text x="52.90" y="680.56" font-size="8.3" text-anchor="end" textLength="10.25" lengthAdjust="spacingAndGlyphs" fill="#111" stroke="#111" stroke-width="0.18">60</text>
<line x1="57.30" y1="662.28" x2="61.50" y2="662.28" stroke="#000" stroke-width="1.1"/>
<text x="52.90" y="665.18" font-size="8.3" text-anchor="end" textLength="10.25" lengthAdjust="spacingAndGlyphs" fill="#111" stroke="#111" stroke-width="0.18">80</text>
<line x1="57.30" y1="646.90" x2="61.50" y2="646.90" stroke="#000" stroke-width="1.1"/>
<text x="52.90" y="649.80" font-size="8.3" text-anchor="end" textLength="15.37" lengthAdjust="spacingAndGlyphs" fill="#111" stroke="#111" stroke-width="0.18">100</text>
<line x1="57.30" y1="631.52" x2="61.50" y2="631.52" stroke="#000" stroke-width="1.1"/>
<text x="52.90" y="634.42" font-size="8.3" text-anchor="end" textLength="15.37" lengthAdjust="spacingAndGlyphs" fill="#111" stroke="#111" stroke-width="0.18">120</text>
<text x="157.30" y="616.20" font-size="9" text-anchor="middle" textLength="27.00" lengthAdjust="spacingAndGlyphs" fill="#111" stroke="#111" stroke-width="0.18">U2932</text>
<text x="52.70" y="740.00" font-size="8.6" text-anchor="end" textLength="35.40" lengthAdjust="spacingAndGlyphs" fill="#111" stroke="#111" stroke-width="0.18">Vitamin E</text>
<text x="52.70" y="750.70" font-size="8.6" text-anchor="end" textLength="43.00" lengthAdjust="spacingAndGlyphs" fill="#111" stroke="#111" stroke-width="0.18">Pracinostat</text>
<text x="52.70" y="761.40" font-size="8.6" text-anchor="end" textLength="20.00" lengthAdjust="spacingAndGlyphs" fill="#111" stroke="#111" stroke-width="0.18">BSO</text>
<rect x="72.15" y="737.05" width="2.00" height="1.10" fill="#333"/>
<rect x="72.15" y="747.75" width="2.00" height="1.10" fill="#333"/>
<rect x="72.15" y="758.45" width="2.00" height="1.10" fill="#333"/>
<path d="M94.25,737.60H99.05M96.65,735.30V739.90" stroke="#222" stroke-width="1.0" fill="none"/>
<rect x="95.65" y="747.75" width="2.00" height="1.10" fill="#333"/>
<rect x="95.65" y="758.45" width="2.00" height="1.10" fill="#333"/>
<rect x="119.15" y="737.05" width="2.00" height="1.10" fill="#333"/>
<path d="M117.75,748.30H122.55M120.15,746.00V750.60" stroke="#222" stroke-width="1.0" fill="none"/>
<rect x="119.15" y="758.45" width="2.00" height="1.10" fill="#333"/>
<path d="M141.25,737.60H146.05M143.65,735.30V739.90" stroke="#222" stroke-width="1.0" fill="none"/>
<path d="M141.25,748.30H146.05M143.65,746.00V750.60" stroke="#222" stroke-width="1.0" fill="none"/>
<rect x="142.65" y="758.45" width="2.00" height="1.10" fill="#333"/>
<rect x="166.15" y="737.05" width="2.00" height="1.10" fill="#333"/>
<rect x="166.15" y="747.75" width="2.00" height="1.10" fill="#333"/>
<path d="M164.75,759.00H169.55M167.15,756.70V761.30" stroke="#222" stroke-width="1.0" fill="none"/>
<path d="M188.25,737.60H193.05M190.65,735.30V739.90" stroke="#222" stroke-width="1.0" fill="none"/>
<rect x="189.65" y="747.75" width="2.00" height="1.10" fill="#333"/>
<path d="M188.25,759.00H193.05M190.65,756.70V761.30" stroke="#222" stroke-width="1.0" fill="none"/>
<rect x="213.15" y="737.05" width="2.00" height="1.10" fill="#333"/>
<path d="M211.75,748.30H216.55M214.15,746.00V750.60" stroke="#222" stroke-width="1.0" fill="none"/>
<path d="M211.75,759.00H216.55M214.15,756.70V761.30" stroke="#222" stroke-width="1.0" fill="none"/>
<path d="M235.25,737.60H240.05M237.65,735.30V739.90" stroke="#222" stroke-width="1.0" fill="none"/>
<path d="M235.25,748.30H240.05M237.65,746.00V750.60" stroke="#222" stroke-width="1.0" fill="none"/>
<path d="M235.25,759.00H240.05M237.65,756.70V761.30" stroke="#222" stroke-width="1.0" fill="none"/>
<rect x="68.40" y="886.66" width="9.50" height="13.74" fill="#e8bd1e"/>
<rect x="68.40" y="843.09" width="9.50" height="43.58" fill="#2e4b7c"/>
<rect x="68.40" y="832.50" width="9.50" height="10.59" fill="#c8c7cc"/>
<rect x="68.40" y="812.90" width="9.50" height="19.60" fill="#db8a16"/>
<line x1="73.15" y1="884.76" x2="73.15" y2="886.96" stroke="#222" stroke-width="0.8"/>
<line x1="72.15" y1="884.76" x2="74.15" y2="884.76" stroke="#222" stroke-width="0.9"/>
<line x1="73.15" y1="841.19" x2="73.15" y2="843.39" stroke="#222" stroke-width="0.8"/>
<line x1="72.15" y1="841.19" x2="74.15" y2="841.19" stroke="#222" stroke-width="0.9"/>
<line x1="73.15" y1="830.60" x2="73.15" y2="832.80" stroke="#222" stroke-width="0.8"/>
<line x1="72.15" y1="830.60" x2="74.15" y2="830.60" stroke="#222" stroke-width="0.9"/>
<line x1="73.15" y1="811.80" x2="73.15" y2="813.20" stroke="#222" stroke-width="0.8"/>
<line x1="72.15" y1="811.80" x2="74.15" y2="811.80" stroke="#222" stroke-width="0.9"/>
<rect x="91.90" y="894.80" width="9.50" height="5.60" fill="#e8bd1e"/>
<rect x="91.90" y="845.80" width="9.50" height="49.00" fill="#2e4b7c"/>
<rect x="91.90" y="833.29" width="9.50" height="12.51" fill="#c8c7cc"/>
<rect x="91.90" y="812.90" width="9.50" height="20.39" fill="#db8a16"/>
<line x1="96.65" y1="892.90" x2="96.65" y2="895.10" stroke="#222" stroke-width="0.8"/>
<line x1="95.65" y1="892.90" x2="97.65" y2="892.90" stroke="#222" stroke-width="0.9"/>
<line x1="96.65" y1="843.90" x2="96.65" y2="846.10" stroke="#222" stroke-width="0.8"/>
<line x1="95.65" y1="843.90" x2="97.65" y2="843.90" stroke="#222" stroke-width="0.9"/>
<line x1="96.65" y1="831.39" x2="96.65" y2="833.59" stroke="#222" stroke-width="0.8"/>
<line x1="95.65" y1="831.39" x2="97.65" y2="831.39" stroke="#222" stroke-width="0.9"/>
<line x1="96.65" y1="808.90" x2="96.65" y2="813.20" stroke="#222" stroke-width="0.8"/>
<line x1="95.65" y1="808.90" x2="97.65" y2="808.90" stroke="#222" stroke-width="0.9"/>
<rect x="115.40" y="867.94" width="9.50" height="32.46" fill="#e8bd1e"/>
<rect x="115.40" y="829.61" width="9.50" height="38.33" fill="#2e4b7c"/>
<rect x="115.40" y="820.77" width="9.50" height="8.84" fill="#c8c7cc"/>
<rect x="115.40" y="812.90" width="9.50" height="7.88" fill="#db8a16"/>
<line x1="120.15" y1="866.04" x2="120.15" y2="868.24" stroke="#222" stroke-width="0.8"/>
<line x1="119.15" y1="866.04" x2="121.15" y2="866.04" stroke="#222" stroke-width="0.9"/>
<line x1="120.15" y1="827.71" x2="120.15" y2="829.91" stroke="#222" stroke-width="0.8"/>
<line x1="119.15" y1="827.71" x2="121.15" y2="827.71" stroke="#222" stroke-width="0.9"/>
<line x1="120.15" y1="818.88" x2="120.15" y2="821.07" stroke="#222" stroke-width="0.8"/>
<line x1="119.15" y1="818.88" x2="121.15" y2="818.88" stroke="#222" stroke-width="0.9"/>
<line x1="120.15" y1="811.80" x2="120.15" y2="813.20" stroke="#222" stroke-width="0.8"/>
<line x1="119.15" y1="811.80" x2="121.15" y2="811.80" stroke="#222" stroke-width="0.9"/>
<rect x="138.90" y="882.29" width="9.50" height="18.11" fill="#e8bd1e"/>
<rect x="138.90" y="833.29" width="9.50" height="49.00" fill="#2e4b7c"/>
<rect x="138.90" y="823.66" width="9.50" height="9.62" fill="#c8c7cc"/>
<rect x="138.90" y="812.90" width="9.50" height="10.76" fill="#db8a16"/>
<line x1="143.65" y1="880.39" x2="143.65" y2="882.59" stroke="#222" stroke-width="0.8"/>
<line x1="142.65" y1="880.39" x2="144.65" y2="880.39" stroke="#222" stroke-width="0.9"/>
<line x1="143.65" y1="831.39" x2="143.65" y2="833.59" stroke="#222" stroke-width="0.8"/>
<line x1="142.65" y1="831.39" x2="144.65" y2="831.39" stroke="#222" stroke-width="0.9"/>
<line x1="143.65" y1="821.76" x2="143.65" y2="823.96" stroke="#222" stroke-width="0.8"/>
<line x1="142.65" y1="821.76" x2="144.65" y2="821.76" stroke="#222" stroke-width="0.9"/>
<line x1="143.65" y1="811.80" x2="143.65" y2="813.20" stroke="#222" stroke-width="0.8"/>
<line x1="142.65" y1="811.80" x2="144.65" y2="811.80" stroke="#222" stroke-width="0.9"/>
<rect x="162.40" y="859.19" width="9.50" height="41.21" fill="#e8bd1e"/>
<rect x="162.40" y="830.40" width="9.50" height="28.79" fill="#2e4b7c"/>
<rect x="162.40" y="821.91" width="9.50" height="8.49" fill="#c8c7cc"/>
<rect x="162.40" y="812.90" width="9.50" height="9.01" fill="#db8a16"/>
<line x1="167.15" y1="857.29" x2="167.15" y2="859.49" stroke="#222" stroke-width="0.8"/>
<line x1="166.15" y1="857.29" x2="168.15" y2="857.29" stroke="#222" stroke-width="0.9"/>
<line x1="167.15" y1="828.50" x2="167.15" y2="830.70" stroke="#222" stroke-width="0.8"/>
<line x1="166.15" y1="828.50" x2="168.15" y2="828.50" stroke="#222" stroke-width="0.9"/>
<line x1="167.15" y1="817.91" x2="167.15" y2="822.21" stroke="#222" stroke-width="0.8"/>
<line x1="166.15" y1="817.91" x2="168.15" y2="817.91" stroke="#222" stroke-width="0.9"/>
<line x1="167.15" y1="811.80" x2="167.15" y2="813.20" stroke="#222" stroke-width="0.8"/>
<line x1="166.15" y1="811.80" x2="168.15" y2="811.80" stroke="#222" stroke-width="0.9"/>
<rect x="185.90" y="894.80" width="9.50" height="5.60" fill="#e8bd1e"/>
<rect x="185.90" y="846.32" width="9.50" height="48.48" fill="#2e4b7c"/>
<rect x="185.90" y="835.21" width="9.50" height="11.11" fill="#c8c7cc"/>
<rect x="185.90" y="812.90" width="9.50" height="22.31" fill="#db8a16"/>
<line x1="190.65" y1="892.90" x2="190.65" y2="895.10" stroke="#222" stroke-width="0.8"/>
<line x1="189.65" y1="892.90" x2="191.65" y2="892.90" stroke="#222" stroke-width="0.9"/>
<line x1="190.65" y1="844.42" x2="190.65" y2="846.62" stroke="#222" stroke-width="0.8"/>
<line x1="189.65" y1="844.42" x2="191.65" y2="844.42" stroke="#222" stroke-width="0.9"/>
<line x1="190.65" y1="833.31" x2="190.65" y2="835.51" stroke="#222" stroke-width="0.8"/>
<line x1="189.65" y1="833.31" x2="191.65" y2="833.31" stroke="#222" stroke-width="0.9"/>
<line x1="190.65" y1="808.90" x2="190.65" y2="813.20" stroke="#222" stroke-width="0.8"/>
<line x1="189.65" y1="808.90" x2="191.65" y2="808.90" stroke="#222" stroke-width="0.9"/>
<rect x="209.40" y="856.04" width="9.50" height="44.36" fill="#e8bd1e"/>
<rect x="209.40" y="825.24" width="9.50" height="30.80" fill="#2e4b7c"/>
<rect x="209.40" y="818.15" width="9.50" height="7.09" fill="#c8c7cc"/>
<rect x="209.40" y="812.90" width="9.50" height="5.25" fill="#db8a16"/>
<line x1="214.15" y1="854.14" x2="214.15" y2="856.34" stroke="#222" stroke-width="0.8"/>
<line x1="213.15" y1="854.14" x2="215.15" y2="854.14" stroke="#222" stroke-width="0.9"/>
<line x1="214.15" y1="823.34" x2="214.15" y2="825.54" stroke="#222" stroke-width="0.8"/>
<line x1="213.15" y1="823.34" x2="215.15" y2="823.34" stroke="#222" stroke-width="0.9"/>
<line x1="214.15" y1="816.25" x2="214.15" y2="818.45" stroke="#222" stroke-width="0.8"/>
<line x1="213.15" y1="816.25" x2="215.15" y2="816.25" stroke="#222" stroke-width="0.9"/>
<line x1="214.15" y1="811.80" x2="214.15" y2="813.20" stroke="#222" stroke-width="0.8"/>
<line x1="213.15" y1="811.80" x2="215.15" y2="811.80" stroke="#222" stroke-width="0.9"/>
<rect x="232.90" y="881.94" width="9.50" height="18.46" fill="#e8bd1e"/>
<rect x="232.90" y="833.29" width="9.50" height="48.65" fill="#2e4b7c"/>
<rect x="232.90" y="825.24" width="9.50" height="8.05" fill="#c8c7cc"/>
<rect x="232.90" y="812.90" width="9.50" height="12.34" fill="#db8a16"/>
<line x1="237.65" y1="875.94" x2="237.65" y2="882.24" stroke="#222" stroke-width="0.8"/>
<line x1="236.65" y1="875.94" x2="238.65" y2="875.94" stroke="#222" stroke-width="0.9"/>
<line x1="237.65" y1="831.39" x2="237.65" y2="833.59" stroke="#222" stroke-width="0.8"/>
<line x1="236.65" y1="831.39" x2="238.65" y2="831.39" stroke="#222" stroke-width="0.9"/>
<line x1="237.65" y1="823.34" x2="237.65" y2="825.54" stroke="#222" stroke-width="0.8"/>
<line x1="236.65" y1="823.34" x2="238.65" y2="823.34" stroke="#222" stroke-width="0.9"/>
<line x1="237.65" y1="811.80" x2="237.65" y2="813.20" stroke="#222" stroke-width="0.8"/>
<line x1="236.65" y1="811.80" x2="238.65" y2="811.80" stroke="#222" stroke-width="0.9"/>
<line x1="61.50" y1="791.90" x2="61.50" y2="901.00" stroke="#000" stroke-width="1.25"/>
<line x1="60.80" y1="900.40" x2="250.00" y2="900.40" stroke="#000" stroke-width="1.3"/>
<line x1="61.40" y1="900.40" x2="61.40" y2="904.80" stroke="#000" stroke-width="1.1"/>
<line x1="84.90" y1="900.40" x2="84.90" y2="904.80" stroke="#000" stroke-width="1.1"/>
<line x1="108.40" y1="900.40" x2="108.40" y2="904.80" stroke="#000" stroke-width="1.1"/>
<line x1="131.90" y1="900.40" x2="131.90" y2="904.80" stroke="#000" stroke-width="1.1"/>
<line x1="155.40" y1="900.40" x2="155.40" y2="904.80" stroke="#000" stroke-width="1.1"/>
<line x1="178.90" y1="900.40" x2="178.90" y2="904.80" stroke="#000" stroke-width="1.1"/>
<line x1="202.40" y1="900.40" x2="202.40" y2="904.80" stroke="#000" stroke-width="1.1"/>
<line x1="225.90" y1="900.40" x2="225.90" y2="904.80" stroke="#000" stroke-width="1.1"/>
<line x1="249.40" y1="900.40" x2="249.40" y2="904.80" stroke="#000" stroke-width="1.1"/>
<line x1="57.30" y1="900.40" x2="61.50" y2="900.40" stroke="#000" stroke-width="1.1"/>
<text x="52.90" y="903.30" font-size="8.3" text-anchor="end" textLength="5.12" lengthAdjust="spacingAndGlyphs" fill="#111" stroke="#111" stroke-width="0.18">0</text>
<line x1="57.30" y1="882.90" x2="61.50" y2="882.90" stroke="#000" stroke-width="1.1"/>
<text x="52.90" y="885.80" font-size="8.3" text-anchor="end" textLength="10.25" lengthAdjust="spacingAndGlyphs" fill="#111" stroke="#111" stroke-width="0.18">20</text>
<line x1="57.30" y1="865.40" x2="61.50" y2="865.40" stroke="#000" stroke-width="1.1"/>
<text x="52.90" y="868.30" font-size="8.3" text-anchor="end" textLength="10.25" lengthAdjust="spacingAndGlyphs" fill="#111" stroke="#111" stroke-width="0.18">40</text>
<line x1="57.30" y1="847.90" x2="61.50" y2="847.90" stroke="#000" stroke-width="1.1"/>
<text x="52.90" y="850.80" font-size="8.3" text-anchor="end" textLength="10.25" lengthAdjust="spacingAndGlyphs" fill="#111" stroke="#111" stroke-width="0.18">60</text>
<line x1="57.30" y1="830.40" x2="61.50" y2="830.40" stroke="#000" stroke-width="1.1"/>
<text x="52.90" y="833.30" font-size="8.3" text-anchor="end" textLength="10.25" lengthAdjust="spacingAndGlyphs" fill="#111" stroke="#111" stroke-width="0.18">80</text>
<line x1="57.30" y1="812.90" x2="61.50" y2="812.90" stroke="#000" stroke-width="1.1"/>
<text x="52.90" y="815.80" font-size="8.3" text-anchor="end" textLength="15.37" lengthAdjust="spacingAndGlyphs" fill="#111" stroke="#111" stroke-width="0.18">100</text>
<line x1="57.30" y1="795.40" x2="61.50" y2="795.40" stroke="#000" stroke-width="1.1"/>
<text x="52.90" y="798.30" font-size="8.3" text-anchor="end" textLength="15.37" lengthAdjust="spacingAndGlyphs" fill="#111" stroke="#111" stroke-width="0.18">120</text>
<text x="157.05" y="784.60" font-size="9" text-anchor="middle" textLength="40.30" lengthAdjust="spacingAndGlyphs" fill="#111" stroke="#111" stroke-width="0.18">SU-DHL-4</text>
<text x="52.70" y="916.60" font-size="8.6" text-anchor="end" textLength="35.40" lengthAdjust="spacingAndGlyphs" fill="#111" stroke="#111" stroke-width="0.18">Vitamin E</text>
<text x="52.70" y="927.30" font-size="8.6" text-anchor="end" textLength="43.00" lengthAdjust="spacingAndGlyphs" fill="#111" stroke="#111" stroke-width="0.18">Pracinostat</text>
<text x="52.70" y="938.00" font-size="8.6" text-anchor="end" textLength="20.00" lengthAdjust="spacingAndGlyphs" fill="#111" stroke="#111" stroke-width="0.18">BSO</text>
<rect x="72.15" y="913.65" width="2.00" height="1.10" fill="#333"/>
<rect x="72.15" y="924.35" width="2.00" height="1.10" fill="#333"/>
<rect x="72.15" y="935.05" width="2.00" height="1.10" fill="#333"/>
<path d="M94.25,914.20H99.05M96.65,911.90V916.50" stroke="#222" stroke-width="1.0" fill="none"/>
<rect x="95.65" y="924.35" width="2.00" height="1.10" fill="#333"/>
<rect x="95.65" y="935.05" width="2.00" height="1.10" fill="#333"/>
<rect x="119.15" y="913.65" width="2.00" height="1.10" fill="#333"/>
<path d="M117.75,924.90H122.55M120.15,922.60V927.20" stroke="#222" stroke-width="1.0" fill="none"/>
<rect x="119.15" y="935.05" width="2.00" height="1.10" fill="#333"/>
<path d="M141.25,914.20H146.05M143.65,911.90V916.50" stroke="#222" stroke-width="1.0" fill="none"/>
<path d="M141.25,924.90H146.05M143.65,922.60V927.20" stroke="#222" stroke-width="1.0" fill="none"/>
<rect x="142.65" y="935.05" width="2.00" height="1.10" fill="#333"/>
<rect x="166.15" y="913.65" width="2.00" height="1.10" fill="#333"/>
<rect x="166.15" y="924.35" width="2.00" height="1.10" fill="#333"/>
<path d="M164.75,935.60H169.55M167.15,933.30V937.90" stroke="#222" stroke-width="1.0" fill="none"/>
<path d="M188.25,914.20H193.05M190.65,911.90V916.50" stroke="#222" stroke-width="1.0" fill="none"/>
<rect x="189.65" y="924.35" width="2.00" height="1.10" fill="#333"/>
<path d="M188.25,935.60H193.05M190.65,933.30V937.90" stroke="#222" stroke-width="1.0" fill="none"/>
<rect x="213.15" y="913.65" width="2.00" height="1.10" fill="#333"/>
<path d="M211.75,924.90H216.55M214.15,922.60V927.20" stroke="#222" stroke-width="1.0" fill="none"/>
<path d="M211.75,935.60H216.55M214.15,933.30V937.90" stroke="#222" stroke-width="1.0" fill="none"/>
<path d="M235.25,914.20H240.05M237.65,911.90V916.50" stroke="#222" stroke-width="1.0" fill="none"/>
<path d="M235.25,924.90H240.05M237.65,922.60V927.20" stroke="#222" stroke-width="1.0" fill="none"/>
<path d="M235.25,935.60H240.05M237.65,933.30V937.90" stroke="#222" stroke-width="1.0" fill="none"/>
<rect x="325.00" y="362.91" width="9.50" height="16.59" fill="#e8bd1e"/>
<rect x="325.00" y="322.10" width="9.50" height="40.81" fill="#2e4b7c"/>
<rect x="325.00" y="311.87" width="9.50" height="10.22" fill="#c8c7cc"/>
<rect x="325.00" y="295.70" width="9.50" height="16.17" fill="#db8a16"/>
<line x1="329.75" y1="356.91" x2="329.75" y2="363.21" stroke="#222" stroke-width="0.8"/>
<line x1="328.75" y1="356.91" x2="330.75" y2="356.91" stroke="#222" stroke-width="0.9"/>
<line x1="329.75" y1="310.10" x2="329.75" y2="322.40" stroke="#222" stroke-width="0.8"/>
<line x1="328.75" y1="310.10" x2="330.75" y2="310.10" stroke="#222" stroke-width="0.9"/>
<line x1="329.75" y1="309.97" x2="329.75" y2="312.17" stroke="#222" stroke-width="0.8"/>
<line x1="328.75" y1="309.97" x2="330.75" y2="309.97" stroke="#222" stroke-width="0.9"/>
<line x1="329.75" y1="294.60" x2="329.75" y2="296.00" stroke="#222" stroke-width="0.8"/>
<line x1="328.75" y1="294.60" x2="330.75" y2="294.60" stroke="#222" stroke-width="0.9"/>
<rect x="348.50" y="367.68" width="9.50" height="11.82" fill="#e8bd1e"/>
<rect x="348.50" y="324.36" width="9.50" height="43.32" fill="#2e4b7c"/>
<rect x="348.50" y="313.80" width="9.50" height="10.56" fill="#c8c7cc"/>
<rect x="348.50" y="295.70" width="9.50" height="18.10" fill="#db8a16"/>
<line x1="353.25" y1="365.78" x2="353.25" y2="367.98" stroke="#222" stroke-width="0.8"/>
<line x1="352.25" y1="365.78" x2="354.25" y2="365.78" stroke="#222" stroke-width="0.9"/>
<line x1="353.25" y1="322.46" x2="353.25" y2="324.66" stroke="#222" stroke-width="0.8"/>
<line x1="352.25" y1="322.46" x2="354.25" y2="322.46" stroke="#222" stroke-width="0.9"/>
<line x1="353.25" y1="311.90" x2="353.25" y2="314.10" stroke="#222" stroke-width="0.8"/>
<line x1="352.25" y1="311.90" x2="354.25" y2="311.90" stroke="#222" stroke-width="0.9"/>
<line x1="353.25" y1="294.60" x2="353.25" y2="296.00" stroke="#222" stroke-width="0.8"/>
<line x1="352.25" y1="294.60" x2="354.25" y2="294.60" stroke="#222" stroke-width="0.9"/>
<rect x="372.00" y="330.56" width="9.50" height="48.94" fill="#e8bd1e"/>
<rect x="372.00" y="302.74" width="9.50" height="27.82" fill="#2e4b7c"/>
<rect x="372.00" y="298.13" width="9.50" height="4.61" fill="#c8c7cc"/>
<rect x="372.00" y="294.61" width="9.50" height="3.52" fill="#db8a16"/>
<line x1="376.75" y1="324.56" x2="376.75" y2="330.86" stroke="#222" stroke-width="0.8"/>
<line x1="375.75" y1="324.56" x2="377.75" y2="324.56" stroke="#222" stroke-width="0.9"/>
<line x1="376.75" y1="300.84" x2="376.75" y2="303.04" stroke="#222" stroke-width="0.8"/>
<line x1="375.75" y1="300.84" x2="377.75" y2="300.84" stroke="#222" stroke-width="0.9"/>
<line x1="376.75" y1="296.23" x2="376.75" y2="298.43" stroke="#222" stroke-width="0.8"/>
<line x1="375.75" y1="296.23" x2="377.75" y2="296.23" stroke="#222" stroke-width="0.9"/>
<line x1="376.75" y1="293.51" x2="376.75" y2="294.91" stroke="#222" stroke-width="0.8"/>
<line x1="375.75" y1="293.51" x2="377.75" y2="293.51" stroke="#222" stroke-width="0.9"/>
<rect x="395.50" y="357.13" width="9.50" height="22.37" fill="#e8bd1e"/>
<rect x="395.50" y="304.16" width="9.50" height="52.96" fill="#2e4b7c"/>
<rect x="395.50" y="300.39" width="9.50" height="3.77" fill="#c8c7cc"/>
<rect x="395.50" y="296.04" width="9.50" height="4.36" fill="#db8a16"/>
<line x1="400.25" y1="355.23" x2="400.25" y2="357.43" stroke="#222" stroke-width="0.8"/>
<line x1="399.25" y1="355.23" x2="401.25" y2="355.23" stroke="#222" stroke-width="0.9"/>
<line x1="400.25" y1="302.26" x2="400.25" y2="304.46" stroke="#222" stroke-width="0.8"/>
<line x1="399.25" y1="302.26" x2="401.25" y2="302.26" stroke="#222" stroke-width="0.9"/>
<line x1="400.25" y1="298.49" x2="400.25" y2="300.69" stroke="#222" stroke-width="0.8"/>
<line x1="399.25" y1="298.49" x2="401.25" y2="298.49" stroke="#222" stroke-width="0.9"/>
<line x1="400.25" y1="292.04" x2="400.25" y2="296.34" stroke="#222" stroke-width="0.8"/>
<line x1="399.25" y1="292.04" x2="401.25" y2="292.04" stroke="#222" stroke-width="0.9"/>
<rect x="419.00" y="363.83" width="9.50" height="15.67" fill="#e8bd1e"/>
<rect x="419.00" y="322.10" width="9.50" height="41.73" fill="#2e4b7c"/>
<rect x="419.00" y="311.87" width="9.50" height="10.22" fill="#c8c7cc"/>
<rect x="419.00" y="296.20" width="9.50" height="15.67" fill="#db8a16"/>
<line x1="423.75" y1="353.33" x2="423.75" y2="364.13" stroke="#222" stroke-width="0.8"/>
<line x1="422.75" y1="353.33" x2="424.75" y2="353.33" stroke="#222" stroke-width="0.9"/>
<line x1="423.75" y1="314.10" x2="423.75" y2="322.40" stroke="#222" stroke-width="0.8"/>
<line x1="422.75" y1="314.10" x2="424.75" y2="314.10" stroke="#222" stroke-width="0.9"/>
<line x1="423.75" y1="309.97" x2="423.75" y2="312.17" stroke="#222" stroke-width="0.8"/>
<line x1="422.75" y1="309.97" x2="424.75" y2="309.97" stroke="#222" stroke-width="0.9"/>
<line x1="423.75" y1="295.10" x2="423.75" y2="296.50" stroke="#222" stroke-width="0.8"/>
<line x1="422.75" y1="295.10" x2="424.75" y2="295.10" stroke="#222" stroke-width="0.9"/>
<rect x="442.50" y="368.69" width="9.50" height="10.81" fill="#e8bd1e"/>
<rect x="442.50" y="326.04" width="9.50" height="42.65" fill="#2e4b7c"/>
<rect x="442.50" y="312.88" width="9.50" height="13.16" fill="#c8c7cc"/>
<rect x="442.50" y="295.20" width="9.50" height="17.68" fill="#db8a16"/>
<line x1="447.25" y1="366.79" x2="447.25" y2="368.99" stroke="#222" stroke-width="0.8"/>
<line x1="446.25" y1="366.79" x2="448.25" y2="366.79" stroke="#222" stroke-width="0.9"/>
<line x1="447.25" y1="324.14" x2="447.25" y2="326.34" stroke="#222" stroke-width="0.8"/>
<line x1="446.25" y1="324.14" x2="448.25" y2="324.14" stroke="#222" stroke-width="0.9"/>
<line x1="447.25" y1="310.98" x2="447.25" y2="313.18" stroke="#222" stroke-width="0.8"/>
<line x1="446.25" y1="310.98" x2="448.25" y2="310.98" stroke="#222" stroke-width="0.9"/>
<line x1="447.25" y1="294.10" x2="447.25" y2="295.50" stroke="#222" stroke-width="0.8"/>
<line x1="446.25" y1="294.10" x2="448.25" y2="294.10" stroke="#222" stroke-width="0.9"/>
<rect x="466.00" y="313.47" width="9.50" height="66.03" fill="#e8bd1e"/>
<rect x="466.00" y="299.81" width="9.50" height="13.66" fill="#2e4b7c"/>
<rect x="466.00" y="297.46" width="9.50" height="2.35" fill="#c8c7cc"/>
<rect x="466.00" y="296.04" width="9.50" height="1.42" fill="#db8a16"/>
<line x1="470.75" y1="307.47" x2="470.75" y2="313.77" stroke="#222" stroke-width="0.8"/>
<line x1="469.75" y1="307.47" x2="471.75" y2="307.47" stroke="#222" stroke-width="0.9"/>
<line x1="470.75" y1="297.91" x2="470.75" y2="300.11" stroke="#222" stroke-width="0.8"/>
<line x1="469.75" y1="297.91" x2="471.75" y2="297.91" stroke="#222" stroke-width="0.9"/>
<line x1="470.75" y1="295.56" x2="470.75" y2="297.76" stroke="#222" stroke-width="0.8"/>
<line x1="469.75" y1="295.56" x2="471.75" y2="295.56" stroke="#222" stroke-width="0.9"/>
<line x1="470.75" y1="294.94" x2="470.75" y2="296.34" stroke="#222" stroke-width="0.8"/>
<line x1="469.75" y1="294.94" x2="471.75" y2="294.94" stroke="#222" stroke-width="0.9"/>
<rect x="489.50" y="354.61" width="9.50" height="24.89" fill="#e8bd1e"/>
<rect x="489.50" y="305.84" width="9.50" height="48.77" fill="#2e4b7c"/>
<rect x="489.50" y="299.97" width="9.50" height="5.87" fill="#c8c7cc"/>
<rect x="489.50" y="294.02" width="9.50" height="5.95" fill="#db8a16"/>
<line x1="494.25" y1="352.71" x2="494.25" y2="354.91" stroke="#222" stroke-width="0.8"/>
<line x1="493.25" y1="352.71" x2="495.25" y2="352.71" stroke="#222" stroke-width="0.9"/>
<line x1="494.25" y1="303.94" x2="494.25" y2="306.14" stroke="#222" stroke-width="0.8"/>
<line x1="493.25" y1="303.94" x2="495.25" y2="303.94" stroke="#222" stroke-width="0.9"/>
<line x1="494.25" y1="298.07" x2="494.25" y2="300.27" stroke="#222" stroke-width="0.8"/>
<line x1="493.25" y1="298.07" x2="495.25" y2="298.07" stroke="#222" stroke-width="0.9"/>
<line x1="494.25" y1="289.02" x2="494.25" y2="294.32" stroke="#222" stroke-width="0.8"/>
<line x1="493.25" y1="289.02" x2="495.25" y2="289.02" stroke="#222" stroke-width="0.9"/>
<line x1="318.50" y1="275.44" x2="318.50" y2="380.10" stroke="#000" stroke-width="1.25"/>
<line x1="317.40" y1="379.50" x2="506.60" y2="379.50" stroke="#000" stroke-width="1.3"/>
<line x1="318.00" y1="379.50" x2="318.00" y2="383.90" stroke="#000" stroke-width="1.1"/>
<line x1="341.50" y1="379.50" x2="341.50" y2="383.90" stroke="#000" stroke-width="1.1"/>
<line x1="365.00" y1="379.50" x2="365.00" y2="383.90" stroke="#000" stroke-width="1.1"/>
<line x1="388.50" y1="379.50" x2="388.50" y2="383.90" stroke="#000" stroke-width="1.1"/>
<line x1="412.00" y1="379.50" x2="412.00" y2="383.90" stroke="#000" stroke-width="1.1"/>
<line x1="435.50" y1="379.50" x2="435.50" y2="383.90" stroke="#000" stroke-width="1.1"/>
<line x1="459.00" y1="379.50" x2="459.00" y2="383.90" stroke="#000" stroke-width="1.1"/>
<line x1="482.50" y1="379.50" x2="482.50" y2="383.90" stroke="#000" stroke-width="1.1"/>
<line x1="506.00" y1="379.50" x2="506.00" y2="383.90" stroke="#000" stroke-width="1.1"/>
<line x1="314.30" y1="379.50" x2="318.50" y2="379.50" stroke="#000" stroke-width="1.1"/>
<text x="309.50" y="382.40" font-size="8.3" text-anchor="end" textLength="5.12" lengthAdjust="spacingAndGlyphs" fill="#111" stroke="#111" stroke-width="0.18">0</text>
<line x1="314.30" y1="362.74" x2="318.50" y2="362.74" stroke="#000" stroke-width="1.1"/>
<text x="309.50" y="365.64" font-size="8.3" text-anchor="end" textLength="10.25" lengthAdjust="spacingAndGlyphs" fill="#111" stroke="#111" stroke-width="0.18">20</text>
<line x1="314.30" y1="345.98" x2="318.50" y2="345.98" stroke="#000" stroke-width="1.1"/>
<text x="309.50" y="348.88" font-size="8.3" text-anchor="end" textLength="10.25" lengthAdjust="spacingAndGlyphs" fill="#111" stroke="#111" stroke-width="0.18">40</text>
<line x1="314.30" y1="329.22" x2="318.50" y2="329.22" stroke="#000" stroke-width="1.1"/>
<text x="309.50" y="332.12" font-size="8.3" text-anchor="end" textLength="10.25" lengthAdjust="spacingAndGlyphs" fill="#111" stroke="#111" stroke-width="0.18">60</text>
<line x1="314.30" y1="312.46" x2="318.50" y2="312.46" stroke="#000" stroke-width="1.1"/>
<text x="309.50" y="315.36" font-size="8.3" text-anchor="end" textLength="10.25" lengthAdjust="spacingAndGlyphs" fill="#111" stroke="#111" stroke-width="0.18">80</text>
<line x1="314.30" y1="295.70" x2="318.50" y2="295.70" stroke="#000" stroke-width="1.1"/>
<text x="309.50" y="298.60" font-size="8.3" text-anchor="end" textLength="15.37" lengthAdjust="spacingAndGlyphs" fill="#111" stroke="#111" stroke-width="0.18">100</text>
<line x1="314.30" y1="278.94" x2="318.50" y2="278.94" stroke="#000" stroke-width="1.1"/>
<text x="309.50" y="281.84" font-size="8.3" text-anchor="end" textLength="15.37" lengthAdjust="spacingAndGlyphs" fill="#111" stroke="#111" stroke-width="0.18">120</text>
<text x="413.85" y="263.80" font-size="9" text-anchor="middle" textLength="50.10" lengthAdjust="spacingAndGlyphs" fill="#111" stroke="#111" stroke-width="0.18">KARPAS422</text>
<text x="309.30" y="395.70" font-size="8.6" text-anchor="end" textLength="35.40" lengthAdjust="spacingAndGlyphs" fill="#111" stroke="#111" stroke-width="0.18">Vitamin E</text>
<text x="309.30" y="406.40" font-size="8.6" text-anchor="end" textLength="43.00" lengthAdjust="spacingAndGlyphs" fill="#111" stroke="#111" stroke-width="0.18">Pracinostat</text>
<text x="309.30" y="417.10" font-size="8.6" text-anchor="end" textLength="20.00" lengthAdjust="spacingAndGlyphs" fill="#111" stroke="#111" stroke-width="0.18">BSO</text>
<rect x="328.75" y="392.75" width="2.00" height="1.10" fill="#333"/>
<rect x="328.75" y="403.45" width="2.00" height="1.10" fill="#333"/>
<rect x="328.75" y="414.15" width="2.00" height="1.10" fill="#333"/>
<path d="M350.85,393.30H355.65M353.25,391.00V395.60" stroke="#222" stroke-width="1.0" fill="none"/>
<rect x="352.25" y="403.45" width="2.00" height="1.10" fill="#333"/>
<rect x="352.25" y="414.15" width="2.00" height="1.10" fill="#333"/>
<rect x="375.75" y="392.75" width="2.00" height="1.10" fill="#333"/>
<path d="M374.35,404.00H379.15M376.75,401.70V406.30" stroke="#222" stroke-width="1.0" fill="none"/>
<rect x="375.75" y="414.15" width="2.00" height="1.10" fill="#333"/>
<path d="M397.85,393.30H402.65M400.25,391.00V395.60" stroke="#222" stroke-width="1.0" fill="none"/>
<path d="M397.85,404.00H402.65M400.25,401.70V406.30" stroke="#222" stroke-width="1.0" fill="none"/>
<rect x="399.25" y="414.15" width="2.00" height="1.10" fill="#333"/>
<rect x="422.75" y="392.75" width="2.00" height="1.10" fill="#333"/>
<rect x="422.75" y="403.45" width="2.00" height="1.10" fill="#333"/>
<path d="M421.35,414.70H426.15M423.75,412.40V417.00" stroke="#222" stroke-width="1.0" fill="none"/>
<path d="M444.85,393.30H449.65M447.25,391.00V395.60" stroke="#222" stroke-width="1.0" fill="none"/>
<rect x="446.25" y="403.45" width="2.00" height="1.10" fill="#333"/>
<path d="M444.85,414.70H449.65M447.25,412.40V417.00" stroke="#222" stroke-width="1.0" fill="none"/>
<rect x="469.75" y="392.75" width="2.00" height="1.10" fill="#333"/>
<path d="M468.35,404.00H473.15M470.75,401.70V406.30" stroke="#222" stroke-width="1.0" fill="none"/>
<path d="M468.35,414.70H473.15M470.75,412.40V417.00" stroke="#222" stroke-width="1.0" fill="none"/>
<path d="M491.85,393.30H496.65M494.25,391.00V395.60" stroke="#222" stroke-width="1.0" fill="none"/>
<path d="M491.85,404.00H496.65M494.25,401.70V406.30" stroke="#222" stroke-width="1.0" fill="none"/>
<path d="M491.85,414.70H496.65M494.25,412.40V417.00" stroke="#222" stroke-width="1.0" fill="none"/>
<rect x="325.00" y="551.91" width="9.50" height="3.29" fill="#e8bd1e"/>
<rect x="325.00" y="505.78" width="9.50" height="46.12" fill="#2e4b7c"/>
<rect x="325.00" y="490.78" width="9.50" height="15.00" fill="#c8c7cc"/>
<rect x="325.00" y="468.67" width="9.50" height="22.11" fill="#db8a16"/>
<line x1="329.75" y1="550.01" x2="329.75" y2="552.21" stroke="#222" stroke-width="0.8"/>
<line x1="328.75" y1="550.01" x2="330.75" y2="550.01" stroke="#222" stroke-width="0.9"/>
<line x1="329.75" y1="503.88" x2="329.75" y2="506.08" stroke="#222" stroke-width="0.8"/>
<line x1="328.75" y1="503.88" x2="330.75" y2="503.88" stroke="#222" stroke-width="0.9"/>
<line x1="329.75" y1="488.88" x2="329.75" y2="491.08" stroke="#222" stroke-width="0.8"/>
<line x1="328.75" y1="488.88" x2="330.75" y2="488.88" stroke="#222" stroke-width="0.9"/>
<line x1="329.75" y1="467.57" x2="329.75" y2="468.97" stroke="#222" stroke-width="0.8"/>
<line x1="328.75" y1="467.57" x2="330.75" y2="467.57" stroke="#222" stroke-width="0.9"/>
<rect x="348.50" y="551.47" width="9.50" height="3.73" fill="#e8bd1e"/>
<rect x="348.50" y="505.17" width="9.50" height="46.30" fill="#2e4b7c"/>
<rect x="348.50" y="491.22" width="9.50" height="13.96" fill="#c8c7cc"/>
<rect x="348.50" y="469.02" width="9.50" height="22.20" fill="#db8a16"/>
<line x1="353.25" y1="549.57" x2="353.25" y2="551.77" stroke="#222" stroke-width="0.8"/>
<line x1="352.25" y1="549.57" x2="354.25" y2="549.57" stroke="#222" stroke-width="0.9"/>
<line x1="353.25" y1="503.27" x2="353.25" y2="505.47" stroke="#222" stroke-width="0.8"/>
<line x1="352.25" y1="503.27" x2="354.25" y2="503.27" stroke="#222" stroke-width="0.9"/>
<line x1="353.25" y1="489.32" x2="353.25" y2="491.52" stroke="#222" stroke-width="0.8"/>
<line x1="352.25" y1="489.32" x2="354.25" y2="489.32" stroke="#222" stroke-width="0.9"/>
<line x1="353.25" y1="467.92" x2="353.25" y2="469.32" stroke="#222" stroke-width="0.8"/>
<line x1="352.25" y1="467.92" x2="354.25" y2="467.92" stroke="#222" stroke-width="0.9"/>
<rect x="372.00" y="546.01" width="9.50" height="9.19" fill="#e8bd1e"/>
<rect x="372.00" y="493.99" width="9.50" height="52.02" fill="#2e4b7c"/>
<rect x="372.00" y="483.50" width="9.50" height="10.49" fill="#c8c7cc"/>
<rect x="372.00" y="469.02" width="9.50" height="14.48" fill="#db8a16"/>
<line x1="376.75" y1="544.11" x2="376.75" y2="546.31" stroke="#222" stroke-width="0.8"/>
<line x1="375.75" y1="544.11" x2="377.75" y2="544.11" stroke="#222" stroke-width="0.9"/>
<line x1="376.75" y1="492.09" x2="376.75" y2="494.29" stroke="#222" stroke-width="0.8"/>
<line x1="375.75" y1="492.09" x2="377.75" y2="492.09" stroke="#222" stroke-width="0.9"/>
<line x1="376.75" y1="481.60" x2="376.75" y2="483.80" stroke="#222" stroke-width="0.8"/>
<line x1="375.75" y1="481.60" x2="377.75" y2="481.60" stroke="#222" stroke-width="0.9"/>
<line x1="376.75" y1="467.92" x2="376.75" y2="469.32" stroke="#222" stroke-width="0.8"/>
<line x1="375.75" y1="467.92" x2="377.75" y2="467.92" stroke="#222" stroke-width="0.9"/>
<rect x="395.50" y="547.14" width="9.50" height="8.06" fill="#e8bd1e"/>
<rect x="395.50" y="496.50" width="9.50" height="50.63" fill="#2e4b7c"/>
<rect x="395.50" y="484.02" width="9.50" height="12.48" fill="#c8c7cc"/>
<rect x="395.50" y="468.33" width="9.50" height="15.69" fill="#db8a16"/>
<line x1="400.25" y1="545.24" x2="400.25" y2="547.44" stroke="#222" stroke-width="0.8"/>
<line x1="399.25" y1="545.24" x2="401.25" y2="545.24" stroke="#222" stroke-width="0.9"/>
<line x1="400.25" y1="494.60" x2="400.25" y2="496.80" stroke="#222" stroke-width="0.8"/>
<line x1="399.25" y1="494.60" x2="401.25" y2="494.60" stroke="#222" stroke-width="0.9"/>
<line x1="400.25" y1="482.12" x2="400.25" y2="484.32" stroke="#222" stroke-width="0.8"/>
<line x1="399.25" y1="482.12" x2="401.25" y2="482.12" stroke="#222" stroke-width="0.9"/>
<line x1="400.25" y1="467.23" x2="400.25" y2="468.63" stroke="#222" stroke-width="0.8"/>
<line x1="399.25" y1="467.23" x2="401.25" y2="467.23" stroke="#222" stroke-width="0.9"/>
<rect x="419.00" y="532.14" width="9.50" height="23.06" fill="#e8bd1e"/>
<rect x="419.00" y="491.74" width="9.50" height="40.40" fill="#2e4b7c"/>
<rect x="419.00" y="483.67" width="9.50" height="8.06" fill="#c8c7cc"/>
<rect x="419.00" y="468.67" width="9.50" height="15.00" fill="#db8a16"/>
<line x1="423.75" y1="516.14" x2="423.75" y2="532.44" stroke="#222" stroke-width="0.8"/>
<line x1="422.75" y1="516.14" x2="424.75" y2="516.14" stroke="#222" stroke-width="0.9"/>
<line x1="423.75" y1="489.84" x2="423.75" y2="492.04" stroke="#222" stroke-width="0.8"/>
<line x1="422.75" y1="489.84" x2="424.75" y2="489.84" stroke="#222" stroke-width="0.9"/>
<line x1="423.75" y1="481.77" x2="423.75" y2="483.97" stroke="#222" stroke-width="0.8"/>
<line x1="422.75" y1="481.77" x2="424.75" y2="481.77" stroke="#222" stroke-width="0.9"/>
<line x1="423.75" y1="459.67" x2="423.75" y2="468.97" stroke="#222" stroke-width="0.8"/>
<line x1="422.75" y1="459.67" x2="424.75" y2="459.67" stroke="#222" stroke-width="0.9"/>
<rect x="442.50" y="552.34" width="9.50" height="2.86" fill="#e8bd1e"/>
<rect x="442.50" y="507.69" width="9.50" height="44.65" fill="#2e4b7c"/>
<rect x="442.50" y="495.03" width="9.50" height="12.66" fill="#c8c7cc"/>
<rect x="442.50" y="468.67" width="9.50" height="26.36" fill="#db8a16"/>
<line x1="447.25" y1="550.44" x2="447.25" y2="552.64" stroke="#222" stroke-width="0.8"/>
<line x1="446.25" y1="550.44" x2="448.25" y2="550.44" stroke="#222" stroke-width="0.9"/>
<line x1="447.25" y1="505.79" x2="447.25" y2="507.99" stroke="#222" stroke-width="0.8"/>
<line x1="446.25" y1="505.79" x2="448.25" y2="505.79" stroke="#222" stroke-width="0.9"/>
<line x1="447.25" y1="493.13" x2="447.25" y2="495.33" stroke="#222" stroke-width="0.8"/>
<line x1="446.25" y1="493.13" x2="448.25" y2="493.13" stroke="#222" stroke-width="0.9"/>
<line x1="447.25" y1="467.57" x2="447.25" y2="468.97" stroke="#222" stroke-width="0.8"/>
<line x1="446.25" y1="467.57" x2="448.25" y2="467.57" stroke="#222" stroke-width="0.9"/>
<rect x="466.00" y="512.54" width="9.50" height="42.66" fill="#e8bd1e"/>
<rect x="466.00" y="476.74" width="9.50" height="35.81" fill="#2e4b7c"/>
<rect x="466.00" y="469.97" width="9.50" height="6.76" fill="#c8c7cc"/>
<rect x="466.00" y="468.07" width="9.50" height="1.91" fill="#db8a16"/>
<line x1="470.75" y1="506.54" x2="470.75" y2="512.84" stroke="#222" stroke-width="0.8"/>
<line x1="469.75" y1="506.54" x2="471.75" y2="506.54" stroke="#222" stroke-width="0.9"/>
<line x1="470.75" y1="474.84" x2="470.75" y2="477.04" stroke="#222" stroke-width="0.8"/>
<line x1="469.75" y1="474.84" x2="471.75" y2="474.84" stroke="#222" stroke-width="0.9"/>
<line x1="470.75" y1="468.07" x2="470.75" y2="470.27" stroke="#222" stroke-width="0.8"/>
<line x1="469.75" y1="468.07" x2="471.75" y2="468.07" stroke="#222" stroke-width="0.9"/>
<line x1="470.75" y1="465.57" x2="470.75" y2="468.37" stroke="#222" stroke-width="0.8"/>
<line x1="469.75" y1="465.57" x2="471.75" y2="465.57" stroke="#222" stroke-width="0.9"/>
<rect x="489.50" y="546.88" width="9.50" height="8.32" fill="#e8bd1e"/>
<rect x="489.50" y="497.46" width="9.50" height="49.42" fill="#2e4b7c"/>
<rect x="489.50" y="484.37" width="9.50" height="13.09" fill="#c8c7cc"/>
<rect x="489.50" y="468.33" width="9.50" height="16.04" fill="#db8a16"/>
<line x1="494.25" y1="544.98" x2="494.25" y2="547.18" stroke="#222" stroke-width="0.8"/>
<line x1="493.25" y1="544.98" x2="495.25" y2="544.98" stroke="#222" stroke-width="0.9"/>
<line x1="494.25" y1="495.56" x2="494.25" y2="497.76" stroke="#222" stroke-width="0.8"/>
<line x1="493.25" y1="495.56" x2="495.25" y2="495.56" stroke="#222" stroke-width="0.9"/>
<line x1="494.25" y1="482.47" x2="494.25" y2="484.67" stroke="#222" stroke-width="0.8"/>
<line x1="493.25" y1="482.47" x2="495.25" y2="482.47" stroke="#222" stroke-width="0.9"/>
<line x1="494.25" y1="465.33" x2="494.25" y2="468.63" stroke="#222" stroke-width="0.8"/>
<line x1="493.25" y1="465.33" x2="495.25" y2="465.33" stroke="#222" stroke-width="0.9"/>
<line x1="318.50" y1="447.66" x2="318.50" y2="555.80" stroke="#000" stroke-width="1.25"/>
<line x1="317.40" y1="555.20" x2="506.60" y2="555.20" stroke="#000" stroke-width="1.3"/>
<line x1="318.00" y1="555.20" x2="318.00" y2="559.60" stroke="#000" stroke-width="1.1"/>
<line x1="341.50" y1="555.20" x2="341.50" y2="559.60" stroke="#000" stroke-width="1.1"/>
<line x1="365.00" y1="555.20" x2="365.00" y2="559.60" stroke="#000" stroke-width="1.1"/>
<line x1="388.50" y1="555.20" x2="388.50" y2="559.60" stroke="#000" stroke-width="1.1"/>
<line x1="412.00" y1="555.20" x2="412.00" y2="559.60" stroke="#000" stroke-width="1.1"/>
<line x1="435.50" y1="555.20" x2="435.50" y2="559.60" stroke="#000" stroke-width="1.1"/>
<line x1="459.00" y1="555.20" x2="459.00" y2="559.60" stroke="#000" stroke-width="1.1"/>
<line x1="482.50" y1="555.20" x2="482.50" y2="559.60" stroke="#000" stroke-width="1.1"/>
<line x1="506.00" y1="555.20" x2="506.00" y2="559.60" stroke="#000" stroke-width="1.1"/>
<line x1="314.30" y1="555.20" x2="318.50" y2="555.20" stroke="#000" stroke-width="1.1"/>
<text x="309.50" y="558.10" font-size="8.3" text-anchor="end" textLength="5.12" lengthAdjust="spacingAndGlyphs" fill="#111" stroke="#111" stroke-width="0.18">0</text>
<line x1="314.30" y1="537.86" x2="318.50" y2="537.86" stroke="#000" stroke-width="1.1"/>
<text x="309.50" y="540.76" font-size="8.3" text-anchor="end" textLength="10.25" lengthAdjust="spacingAndGlyphs" fill="#111" stroke="#111" stroke-width="0.18">20</text>
<line x1="314.30" y1="520.52" x2="318.50" y2="520.52" stroke="#000" stroke-width="1.1"/>
<text x="309.50" y="523.42" font-size="8.3" text-anchor="end" textLength="10.25" lengthAdjust="spacingAndGlyphs" fill="#111" stroke="#111" stroke-width="0.18">40</text>
<line x1="314.30" y1="503.18" x2="318.50" y2="503.18" stroke="#000" stroke-width="1.1"/>
<text x="309.50" y="506.08" font-size="8.3" text-anchor="end" textLength="10.25" lengthAdjust="spacingAndGlyphs" fill="#111" stroke="#111" stroke-width="0.18">60</text>
<line x1="314.30" y1="485.84" x2="318.50" y2="485.84" stroke="#000" stroke-width="1.1"/>
<text x="309.50" y="488.74" font-size="8.3" text-anchor="end" textLength="10.25" lengthAdjust="spacingAndGlyphs" fill="#111" stroke="#111" stroke-width="0.18">80</text>
<line x1="314.30" y1="468.50" x2="318.50" y2="468.50" stroke="#000" stroke-width="1.1"/>
<text x="309.50" y="471.40" font-size="8.3" text-anchor="end" textLength="15.37" lengthAdjust="spacingAndGlyphs" fill="#111" stroke="#111" stroke-width="0.18">100</text>
<line x1="314.30" y1="451.16" x2="318.50" y2="451.16" stroke="#000" stroke-width="1.1"/>
<text x="309.50" y="454.06" font-size="8.3" text-anchor="end" textLength="15.37" lengthAdjust="spacingAndGlyphs" fill="#111" stroke="#111" stroke-width="0.18">120</text>
<text x="413.85" y="440.40" font-size="9" text-anchor="middle" textLength="48.50" lengthAdjust="spacingAndGlyphs" fill="#111" stroke="#111" stroke-width="0.18">WSUDLCL2</text>
<text x="309.30" y="571.40" font-size="8.6" text-anchor="end" textLength="35.40" lengthAdjust="spacingAndGlyphs" fill="#111" stroke="#111" stroke-width="0.18">Vitamin E</text>
<text x="309.30" y="582.10" font-size="8.6" text-anchor="end" textLength="43.00" lengthAdjust="spacingAndGlyphs" fill="#111" stroke="#111" stroke-width="0.18">Pracinostat</text>
<text x="309.30" y="592.80" font-size="8.6" text-anchor="end" textLength="20.00" lengthAdjust="spacingAndGlyphs" fill="#111" stroke="#111" stroke-width="0.18">BSO</text>
<rect x="328.75" y="568.45" width="2.00" height="1.10" fill="#333"/>
<rect x="328.75" y="579.15" width="2.00" height="1.10" fill="#333"/>
<rect x="328.75" y="589.85" width="2.00" height="1.10" fill="#333"/>
<path d="M350.85,569.00H355.65M353.25,566.70V571.30" stroke="#222" stroke-width="1.0" fill="none"/>
<rect x="352.25" y="579.15" width="2.00" height="1.10" fill="#333"/>
<rect x="352.25" y="589.85" width="2.00" height="1.10" fill="#333"/>
<rect x="375.75" y="568.45" width="2.00" height="1.10" fill="#333"/>
<path d="M374.35,579.70H379.15M376.75,577.40V582.00" stroke="#222" stroke-width="1.0" fill="none"/>
<rect x="375.75" y="589.85" width="2.00" height="1.10" fill="#333"/>
<path d="M397.85,569.00H402.65M400.25,566.70V571.30" stroke="#222" stroke-width="1.0" fill="none"/>
<path d="M397.85,579.70H402.65M400.25,577.40V582.00" stroke="#222" stroke-width="1.0" fill="none"/>
<rect x="399.25" y="589.85" width="2.00" height="1.10" fill="#333"/>
<rect x="422.75" y="568.45" width="2.00" height="1.10" fill="#333"/>
<rect x="422.75" y="579.15" width="2.00" height="1.10" fill="#333"/>
<path d="M421.35,590.40H426.15M423.75,588.10V592.70" stroke="#222" stroke-width="1.0" fill="none"/>
<path d="M444.85,569.00H449.65M447.25,566.70V571.30" stroke="#222" stroke-width="1.0" fill="none"/>
<rect x="446.25" y="579.15" width="2.00" height="1.10" fill="#333"/>
<path d="M444.85,590.40H449.65M447.25,588.10V592.70" stroke="#222" stroke-width="1.0" fill="none"/>
<rect x="469.75" y="568.45" width="2.00" height="1.10" fill="#333"/>
<path d="M468.35,579.70H473.15M470.75,577.40V582.00" stroke="#222" stroke-width="1.0" fill="none"/>
<path d="M468.35,590.40H473.15M470.75,588.10V592.70" stroke="#222" stroke-width="1.0" fill="none"/>
<path d="M491.85,569.00H496.65M494.25,566.70V571.30" stroke="#222" stroke-width="1.0" fill="none"/>
<path d="M491.85,579.70H496.65M494.25,577.40V582.00" stroke="#222" stroke-width="1.0" fill="none"/>
<path d="M491.85,590.40H496.65M494.25,588.10V592.70" stroke="#222" stroke-width="1.0" fill="none"/>
<rect x="325.00" y="713.71" width="9.50" height="10.09" fill="#e8bd1e"/>
<rect x="325.00" y="664.16" width="9.50" height="49.55" fill="#2e4b7c"/>
<rect x="325.00" y="656.33" width="9.50" height="7.83" fill="#c8c7cc"/>
<rect x="325.00" y="643.10" width="9.50" height="13.23" fill="#db8a16"/>
<line x1="329.75" y1="711.81" x2="329.75" y2="714.01" stroke="#222" stroke-width="0.8"/>
<line x1="328.75" y1="711.81" x2="330.75" y2="711.81" stroke="#222" stroke-width="0.9"/>
<line x1="329.75" y1="662.26" x2="329.75" y2="664.46" stroke="#222" stroke-width="0.8"/>
<line x1="328.75" y1="662.26" x2="330.75" y2="662.26" stroke="#222" stroke-width="0.9"/>
<line x1="329.75" y1="654.43" x2="329.75" y2="656.63" stroke="#222" stroke-width="0.8"/>
<line x1="328.75" y1="654.43" x2="330.75" y2="654.43" stroke="#222" stroke-width="0.9"/>
<line x1="329.75" y1="642.00" x2="329.75" y2="643.40" stroke="#222" stroke-width="0.8"/>
<line x1="328.75" y1="642.00" x2="330.75" y2="642.00" stroke="#222" stroke-width="0.9"/>
<rect x="348.50" y="715.97" width="9.50" height="7.83" fill="#e8bd1e"/>
<rect x="348.50" y="665.78" width="9.50" height="50.20" fill="#2e4b7c"/>
<rect x="348.50" y="654.96" width="9.50" height="10.81" fill="#c8c7cc"/>
<rect x="348.50" y="643.10" width="9.50" height="11.86" fill="#db8a16"/>
<line x1="353.25" y1="714.07" x2="353.25" y2="716.27" stroke="#222" stroke-width="0.8"/>
<line x1="352.25" y1="714.07" x2="354.25" y2="714.07" stroke="#222" stroke-width="0.9"/>
<line x1="353.25" y1="663.88" x2="353.25" y2="666.08" stroke="#222" stroke-width="0.8"/>
<line x1="352.25" y1="663.88" x2="354.25" y2="663.88" stroke="#222" stroke-width="0.9"/>
<line x1="353.25" y1="653.06" x2="353.25" y2="655.26" stroke="#222" stroke-width="0.8"/>
<line x1="352.25" y1="653.06" x2="354.25" y2="653.06" stroke="#222" stroke-width="0.9"/>
<line x1="353.25" y1="642.00" x2="353.25" y2="643.40" stroke="#222" stroke-width="0.8"/>
<line x1="352.25" y1="642.00" x2="354.25" y2="642.00" stroke="#222" stroke-width="0.9"/>
<rect x="372.00" y="708.31" width="9.50" height="15.49" fill="#e8bd1e"/>
<rect x="372.00" y="658.84" width="9.50" height="49.47" fill="#2e4b7c"/>
<rect x="372.00" y="651.17" width="9.50" height="7.67" fill="#c8c7cc"/>
<rect x="372.00" y="643.10" width="9.50" height="8.07" fill="#db8a16"/>
<line x1="376.75" y1="706.41" x2="376.75" y2="708.61" stroke="#222" stroke-width="0.8"/>
<line x1="375.75" y1="706.41" x2="377.75" y2="706.41" stroke="#222" stroke-width="0.9"/>
<line x1="376.75" y1="656.94" x2="376.75" y2="659.14" stroke="#222" stroke-width="0.8"/>
<line x1="375.75" y1="656.94" x2="377.75" y2="656.94" stroke="#222" stroke-width="0.9"/>
<line x1="376.75" y1="649.27" x2="376.75" y2="651.47" stroke="#222" stroke-width="0.8"/>
<line x1="375.75" y1="649.27" x2="377.75" y2="649.27" stroke="#222" stroke-width="0.9"/>
<line x1="376.75" y1="642.00" x2="376.75" y2="643.40" stroke="#222" stroke-width="0.8"/>
<line x1="375.75" y1="642.00" x2="377.75" y2="642.00" stroke="#222" stroke-width="0.9"/>
<rect x="395.50" y="709.84" width="9.50" height="13.96" fill="#e8bd1e"/>
<rect x="395.50" y="661.18" width="9.50" height="48.66" fill="#2e4b7c"/>
<rect x="395.50" y="652.14" width="9.50" height="9.04" fill="#c8c7cc"/>
<rect x="395.50" y="643.10" width="9.50" height="9.04" fill="#db8a16"/>
<line x1="400.25" y1="707.94" x2="400.25" y2="710.14" stroke="#222" stroke-width="0.8"/>
<line x1="399.25" y1="707.94" x2="401.25" y2="707.94" stroke="#222" stroke-width="0.9"/>
<line x1="400.25" y1="659.28" x2="400.25" y2="661.48" stroke="#222" stroke-width="0.8"/>
<line x1="399.25" y1="659.28" x2="401.25" y2="659.28" stroke="#222" stroke-width="0.9"/>
<line x1="400.25" y1="650.24" x2="400.25" y2="652.44" stroke="#222" stroke-width="0.8"/>
<line x1="399.25" y1="650.24" x2="401.25" y2="650.24" stroke="#222" stroke-width="0.9"/>
<line x1="400.25" y1="642.00" x2="400.25" y2="643.40" stroke="#222" stroke-width="0.8"/>
<line x1="399.25" y1="642.00" x2="401.25" y2="642.00" stroke="#222" stroke-width="0.9"/>
<rect x="419.00" y="709.44" width="9.50" height="14.36" fill="#e8bd1e"/>
<rect x="419.00" y="663.11" width="9.50" height="46.32" fill="#2e4b7c"/>
<rect x="419.00" y="654.64" width="9.50" height="8.47" fill="#c8c7cc"/>
<rect x="419.00" y="642.94" width="9.50" height="11.70" fill="#db8a16"/>
<line x1="423.75" y1="707.54" x2="423.75" y2="709.74" stroke="#222" stroke-width="0.8"/>
<line x1="422.75" y1="707.54" x2="424.75" y2="707.54" stroke="#222" stroke-width="0.9"/>
<line x1="423.75" y1="661.21" x2="423.75" y2="663.41" stroke="#222" stroke-width="0.8"/>
<line x1="422.75" y1="661.21" x2="424.75" y2="661.21" stroke="#222" stroke-width="0.9"/>
<line x1="423.75" y1="652.74" x2="423.75" y2="654.94" stroke="#222" stroke-width="0.8"/>
<line x1="422.75" y1="652.74" x2="424.75" y2="652.74" stroke="#222" stroke-width="0.9"/>
<line x1="423.75" y1="641.84" x2="423.75" y2="643.24" stroke="#222" stroke-width="0.8"/>
<line x1="422.75" y1="641.84" x2="424.75" y2="641.84" stroke="#222" stroke-width="0.9"/>
<rect x="442.50" y="714.60" width="9.50" height="9.20" fill="#e8bd1e"/>
<rect x="442.50" y="664.57" width="9.50" height="50.03" fill="#2e4b7c"/>
<rect x="442.50" y="656.01" width="9.50" height="8.55" fill="#c8c7cc"/>
<rect x="442.50" y="643.10" width="9.50" height="12.91" fill="#db8a16"/>
<line x1="447.25" y1="712.70" x2="447.25" y2="714.90" stroke="#222" stroke-width="0.8"/>
<line x1="446.25" y1="712.70" x2="448.25" y2="712.70" stroke="#222" stroke-width="0.9"/>
<line x1="447.25" y1="662.67" x2="447.25" y2="664.87" stroke="#222" stroke-width="0.8"/>
<line x1="446.25" y1="662.67" x2="448.25" y2="662.67" stroke="#222" stroke-width="0.9"/>
<line x1="447.25" y1="654.11" x2="447.25" y2="656.31" stroke="#222" stroke-width="0.8"/>
<line x1="446.25" y1="654.11" x2="448.25" y2="654.11" stroke="#222" stroke-width="0.9"/>
<line x1="447.25" y1="642.00" x2="447.25" y2="643.40" stroke="#222" stroke-width="0.8"/>
<line x1="446.25" y1="642.00" x2="448.25" y2="642.00" stroke="#222" stroke-width="0.9"/>
<rect x="466.00" y="700.24" width="9.50" height="23.56" fill="#e8bd1e"/>
<rect x="466.00" y="657.87" width="9.50" height="42.37" fill="#2e4b7c"/>
<rect x="466.00" y="650.77" width="9.50" height="7.10" fill="#c8c7cc"/>
<rect x="466.00" y="643.10" width="9.50" height="7.67" fill="#db8a16"/>
<line x1="470.75" y1="691.74" x2="470.75" y2="700.54" stroke="#222" stroke-width="0.8"/>
<line x1="469.75" y1="691.74" x2="471.75" y2="691.74" stroke="#222" stroke-width="0.9"/>
<line x1="470.75" y1="655.97" x2="470.75" y2="658.17" stroke="#222" stroke-width="0.8"/>
<line x1="469.75" y1="655.97" x2="471.75" y2="655.97" stroke="#222" stroke-width="0.9"/>
<line x1="470.75" y1="643.77" x2="470.75" y2="651.07" stroke="#222" stroke-width="0.8"/>
<line x1="469.75" y1="643.77" x2="471.75" y2="643.77" stroke="#222" stroke-width="0.9"/>
<line x1="470.75" y1="642.00" x2="470.75" y2="643.40" stroke="#222" stroke-width="0.8"/>
<line x1="469.75" y1="642.00" x2="471.75" y2="642.00" stroke="#222" stroke-width="0.9"/>
<rect x="489.50" y="707.90" width="9.50" height="15.90" fill="#e8bd1e"/>
<rect x="489.50" y="658.51" width="9.50" height="49.39" fill="#2e4b7c"/>
<rect x="489.50" y="651.17" width="9.50" height="7.34" fill="#c8c7cc"/>
<rect x="489.50" y="643.10" width="9.50" height="8.07" fill="#db8a16"/>
<line x1="494.25" y1="706.00" x2="494.25" y2="708.20" stroke="#222" stroke-width="0.8"/>
<line x1="493.25" y1="706.00" x2="495.25" y2="706.00" stroke="#222" stroke-width="0.9"/>
<line x1="494.25" y1="656.61" x2="494.25" y2="658.81" stroke="#222" stroke-width="0.8"/>
<line x1="493.25" y1="656.61" x2="495.25" y2="656.61" stroke="#222" stroke-width="0.9"/>
<line x1="494.25" y1="649.27" x2="494.25" y2="651.47" stroke="#222" stroke-width="0.8"/>
<line x1="493.25" y1="649.27" x2="495.25" y2="649.27" stroke="#222" stroke-width="0.9"/>
<line x1="494.25" y1="642.00" x2="494.25" y2="643.40" stroke="#222" stroke-width="0.8"/>
<line x1="493.25" y1="642.00" x2="495.25" y2="642.00" stroke="#222" stroke-width="0.9"/>
<line x1="318.50" y1="623.46" x2="318.50" y2="724.40" stroke="#000" stroke-width="1.25"/>
<line x1="317.40" y1="723.80" x2="506.60" y2="723.80" stroke="#000" stroke-width="1.3"/>
<line x1="318.00" y1="723.80" x2="318.00" y2="728.20" stroke="#000" stroke-width="1.1"/>
<line x1="341.50" y1="723.80" x2="341.50" y2="728.20" stroke="#000" stroke-width="1.1"/>
<line x1="365.00" y1="723.80" x2="365.00" y2="728.20" stroke="#000" stroke-width="1.1"/>
<line x1="388.50" y1="723.80" x2="388.50" y2="728.20" stroke="#000" stroke-width="1.1"/>
<line x1="412.00" y1="723.80" x2="412.00" y2="728.20" stroke="#000" stroke-width="1.1"/>
<line x1="435.50" y1="723.80" x2="435.50" y2="728.20" stroke="#000" stroke-width="1.1"/>
<line x1="459.00" y1="723.80" x2="459.00" y2="728.20" stroke="#000" stroke-width="1.1"/>
<line x1="482.50" y1="723.80" x2="482.50" y2="728.20" stroke="#000" stroke-width="1.1"/>
<line x1="506.00" y1="723.80" x2="506.00" y2="728.20" stroke="#000" stroke-width="1.1"/>
<line x1="314.30" y1="723.80" x2="318.50" y2="723.80" stroke="#000" stroke-width="1.1"/>
<text x="309.50" y="726.70" font-size="8.3" text-anchor="end" textLength="5.12" lengthAdjust="spacingAndGlyphs" fill="#111" stroke="#111" stroke-width="0.18">0</text>
<line x1="314.30" y1="707.66" x2="318.50" y2="707.66" stroke="#000" stroke-width="1.1"/>
<text x="309.50" y="710.56" font-size="8.3" text-anchor="end" textLength="10.25" lengthAdjust="spacingAndGlyphs" fill="#111" stroke="#111" stroke-width="0.18">20</text>
<line x1="314.30" y1="691.52" x2="318.50" y2="691.52" stroke="#000" stroke-width="1.1"/>
<text x="309.50" y="694.42" font-size="8.3" text-anchor="end" textLength="10.25" lengthAdjust="spacingAndGlyphs" fill="#111" stroke="#111" stroke-width="0.18">40</text>
<line x1="314.30" y1="675.38" x2="318.50" y2="675.38" stroke="#000" stroke-width="1.1"/>
<text x="309.50" y="678.28" font-size="8.3" text-anchor="end" textLength="10.25" lengthAdjust="spacingAndGlyphs" fill="#111" stroke="#111" stroke-width="0.18">60</text>
<line x1="314.30" y1="659.24" x2="318.50" y2="659.24" stroke="#000" stroke-width="1.1"/>
<text x="309.50" y="662.14" font-size="8.3" text-anchor="end" textLength="10.25" lengthAdjust="spacingAndGlyphs" fill="#111" stroke="#111" stroke-width="0.18">80</text>
<line x1="314.30" y1="643.10" x2="318.50" y2="643.10" stroke="#000" stroke-width="1.1"/>
<text x="309.50" y="646.00" font-size="8.3" text-anchor="end" textLength="15.37" lengthAdjust="spacingAndGlyphs" fill="#111" stroke="#111" stroke-width="0.18">100</text>
<line x1="314.30" y1="626.96" x2="318.50" y2="626.96" stroke="#000" stroke-width="1.1"/>
<text x="309.50" y="629.86" font-size="8.3" text-anchor="end" textLength="15.37" lengthAdjust="spacingAndGlyphs" fill="#111" stroke="#111" stroke-width="0.18">120</text>
<text x="413.85" y="616.20" font-size="9" text-anchor="middle" textLength="26.90" lengthAdjust="spacingAndGlyphs" fill="#111" stroke="#111" stroke-width="0.18">Pfeiffer</text>
<text x="309.30" y="740.00" font-size="8.6" text-anchor="end" textLength="35.40" lengthAdjust="spacingAndGlyphs" fill="#111" stroke="#111" stroke-width="0.18">Vitamin E</text>
<text x="309.30" y="750.70" font-size="8.6" text-anchor="end" textLength="43.00" lengthAdjust="spacingAndGlyphs" fill="#111" stroke="#111" stroke-width="0.18">Pracinostat</text>
<text x="309.30" y="761.40" font-size="8.6" text-anchor="end" textLength="20.00" lengthAdjust="spacingAndGlyphs" fill="#111" stroke="#111" stroke-width="0.18">BSO</text>
<rect x="328.75" y="737.05" width="2.00" height="1.10" fill="#333"/>
<rect x="328.75" y="747.75" width="2.00" height="1.10" fill="#333"/>
<rect x="328.75" y="758.45" width="2.00" height="1.10" fill="#333"/>
<path d="M350.85,737.60H355.65M353.25,735.30V739.90" stroke="#222" stroke-width="1.0" fill="none"/>
<rect x="352.25" y="747.75" width="2.00" height="1.10" fill="#333"/>
<rect x="352.25" y="758.45" width="2.00" height="1.10" fill="#333"/>
<rect x="375.75" y="737.05" width="2.00" height="1.10" fill="#333"/>
<path d="M374.35,748.30H379.15M376.75,746.00V750.60" stroke="#222" stroke-width="1.0" fill="none"/>
<rect x="375.75" y="758.45" width="2.00" height="1.10" fill="#333"/>
<path d="M397.85,737.60H402.65M400.25,735.30V739.90" stroke="#222" stroke-width="1.0" fill="none"/>
<path d="M397.85,748.30H402.65M400.25,746.00V750.60" stroke="#222" stroke-width="1.0" fill="none"/>
<rect x="399.25" y="758.45" width="2.00" height="1.10" fill="#333"/>
<rect x="422.75" y="737.05" width="2.00" height="1.10" fill="#333"/>
<rect x="422.75" y="747.75" width="2.00" height="1.10" fill="#333"/>
<path d="M421.35,759.00H426.15M423.75,756.70V761.30" stroke="#222" stroke-width="1.0" fill="none"/>
<path d="M444.85,737.60H449.65M447.25,735.30V739.90" stroke="#222" stroke-width="1.0" fill="none"/>
<rect x="446.25" y="747.75" width="2.00" height="1.10" fill="#333"/>
<path d="M444.85,759.00H449.65M447.25,756.70V761.30" stroke="#222" stroke-width="1.0" fill="none"/>
<rect x="469.75" y="737.05" width="2.00" height="1.10" fill="#333"/>
<path d="M468.35,748.30H473.15M470.75,746.00V750.60" stroke="#222" stroke-width="1.0" fill="none"/>
<path d="M468.35,759.00H473.15M470.75,756.70V761.30" stroke="#222" stroke-width="1.0" fill="none"/>
<path d="M491.85,737.60H496.65M494.25,735.30V739.90" stroke="#222" stroke-width="1.0" fill="none"/>
<path d="M491.85,748.30H496.65M494.25,746.00V750.60" stroke="#222" stroke-width="1.0" fill="none"/>
<path d="M491.85,759.00H496.65M494.25,756.70V761.30" stroke="#222" stroke-width="1.0" fill="none"/>
<rect x="325.00" y="893.12" width="9.50" height="7.08" fill="#e8bd1e"/>
<rect x="325.00" y="855.43" width="9.50" height="37.69" fill="#2e4b7c"/>
<rect x="325.00" y="841.51" width="9.50" height="13.92" fill="#c8c7cc"/>
<rect x="325.00" y="818.80" width="9.50" height="22.71" fill="#db8a16"/>
<line x1="329.75" y1="891.22" x2="329.75" y2="893.42" stroke="#222" stroke-width="0.8"/>
<line x1="328.75" y1="891.22" x2="330.75" y2="891.22" stroke="#222" stroke-width="0.9"/>
<line x1="329.75" y1="853.53" x2="329.75" y2="855.73" stroke="#222" stroke-width="0.8"/>
<line x1="328.75" y1="853.53" x2="330.75" y2="853.53" stroke="#222" stroke-width="0.9"/>
<line x1="329.75" y1="839.61" x2="329.75" y2="841.81" stroke="#222" stroke-width="0.8"/>
<line x1="328.75" y1="839.61" x2="330.75" y2="839.61" stroke="#222" stroke-width="0.9"/>
<line x1="329.75" y1="815.80" x2="329.75" y2="819.10" stroke="#222" stroke-width="0.8"/>
<line x1="328.75" y1="815.80" x2="330.75" y2="815.80" stroke="#222" stroke-width="0.9"/>
<rect x="348.50" y="893.53" width="9.50" height="6.67" fill="#e8bd1e"/>
<rect x="348.50" y="855.02" width="9.50" height="38.50" fill="#2e4b7c"/>
<rect x="348.50" y="840.62" width="9.50" height="14.41" fill="#c8c7cc"/>
<rect x="348.50" y="818.80" width="9.50" height="21.82" fill="#db8a16"/>
<line x1="353.25" y1="891.63" x2="353.25" y2="893.83" stroke="#222" stroke-width="0.8"/>
<line x1="352.25" y1="891.63" x2="354.25" y2="891.63" stroke="#222" stroke-width="0.9"/>
<line x1="353.25" y1="853.12" x2="353.25" y2="855.32" stroke="#222" stroke-width="0.8"/>
<line x1="352.25" y1="853.12" x2="354.25" y2="853.12" stroke="#222" stroke-width="0.9"/>
<line x1="353.25" y1="838.72" x2="353.25" y2="840.92" stroke="#222" stroke-width="0.8"/>
<line x1="352.25" y1="838.72" x2="354.25" y2="838.72" stroke="#222" stroke-width="0.9"/>
<line x1="353.25" y1="816.30" x2="353.25" y2="819.10" stroke="#222" stroke-width="0.8"/>
<line x1="352.25" y1="816.30" x2="354.25" y2="816.30" stroke="#222" stroke-width="0.9"/>
<rect x="372.00" y="885.79" width="9.50" height="14.41" fill="#e8bd1e"/>
<rect x="372.00" y="834.84" width="9.50" height="50.96" fill="#2e4b7c"/>
<rect x="372.00" y="828.08" width="9.50" height="6.76" fill="#c8c7cc"/>
<rect x="372.00" y="819.78" width="9.50" height="8.30" fill="#db8a16"/>
<line x1="376.75" y1="883.89" x2="376.75" y2="886.09" stroke="#222" stroke-width="0.8"/>
<line x1="375.75" y1="883.89" x2="377.75" y2="883.89" stroke="#222" stroke-width="0.9"/>
<line x1="376.75" y1="832.94" x2="376.75" y2="835.14" stroke="#222" stroke-width="0.8"/>
<line x1="375.75" y1="832.94" x2="377.75" y2="832.94" stroke="#222" stroke-width="0.9"/>
<line x1="376.75" y1="826.18" x2="376.75" y2="828.38" stroke="#222" stroke-width="0.8"/>
<line x1="375.75" y1="826.18" x2="377.75" y2="826.18" stroke="#222" stroke-width="0.9"/>
<line x1="376.75" y1="818.68" x2="376.75" y2="820.08" stroke="#222" stroke-width="0.8"/>
<line x1="375.75" y1="818.68" x2="377.75" y2="818.68" stroke="#222" stroke-width="0.9"/>
<rect x="395.50" y="886.28" width="9.50" height="13.92" fill="#e8bd1e"/>
<rect x="395.50" y="834.18" width="9.50" height="52.10" fill="#2e4b7c"/>
<rect x="395.50" y="828.08" width="9.50" height="6.10" fill="#c8c7cc"/>
<rect x="395.50" y="819.78" width="9.50" height="8.30" fill="#db8a16"/>
<line x1="400.25" y1="884.38" x2="400.25" y2="886.58" stroke="#222" stroke-width="0.8"/>
<line x1="399.25" y1="884.38" x2="401.25" y2="884.38" stroke="#222" stroke-width="0.9"/>
<line x1="400.25" y1="832.28" x2="400.25" y2="834.48" stroke="#222" stroke-width="0.8"/>
<line x1="399.25" y1="832.28" x2="401.25" y2="832.28" stroke="#222" stroke-width="0.9"/>
<line x1="400.25" y1="826.18" x2="400.25" y2="828.38" stroke="#222" stroke-width="0.8"/>
<line x1="399.25" y1="826.18" x2="401.25" y2="826.18" stroke="#222" stroke-width="0.9"/>
<line x1="400.25" y1="818.68" x2="400.25" y2="820.08" stroke="#222" stroke-width="0.8"/>
<line x1="399.25" y1="818.68" x2="401.25" y2="818.68" stroke="#222" stroke-width="0.9"/>
<rect x="419.00" y="892.87" width="9.50" height="7.33" fill="#e8bd1e"/>
<rect x="419.00" y="851.69" width="9.50" height="41.19" fill="#2e4b7c"/>
<rect x="419.00" y="839.96" width="9.50" height="11.72" fill="#c8c7cc"/>
<rect x="419.00" y="818.47" width="9.50" height="21.49" fill="#db8a16"/>
<line x1="423.75" y1="890.97" x2="423.75" y2="893.17" stroke="#222" stroke-width="0.8"/>
<line x1="422.75" y1="890.97" x2="424.75" y2="890.97" stroke="#222" stroke-width="0.9"/>
<line x1="423.75" y1="842.69" x2="423.75" y2="851.99" stroke="#222" stroke-width="0.8"/>
<line x1="422.75" y1="842.69" x2="424.75" y2="842.69" stroke="#222" stroke-width="0.9"/>
<line x1="423.75" y1="838.06" x2="423.75" y2="840.26" stroke="#222" stroke-width="0.8"/>
<line x1="422.75" y1="838.06" x2="424.75" y2="838.06" stroke="#222" stroke-width="0.9"/>
<line x1="423.75" y1="815.47" x2="423.75" y2="818.77" stroke="#222" stroke-width="0.8"/>
<line x1="422.75" y1="815.47" x2="424.75" y2="815.47" stroke="#222" stroke-width="0.9"/>
<rect x="442.50" y="892.87" width="9.50" height="7.33" fill="#e8bd1e"/>
<rect x="442.50" y="851.20" width="9.50" height="41.68" fill="#2e4b7c"/>
<rect x="442.50" y="839.64" width="9.50" height="11.56" fill="#c8c7cc"/>
<rect x="442.50" y="818.47" width="9.50" height="21.16" fill="#db8a16"/>
<line x1="447.25" y1="890.97" x2="447.25" y2="893.17" stroke="#222" stroke-width="0.8"/>
<line x1="446.25" y1="890.97" x2="448.25" y2="890.97" stroke="#222" stroke-width="0.9"/>
<line x1="447.25" y1="842.20" x2="447.25" y2="851.50" stroke="#222" stroke-width="0.8"/>
<line x1="446.25" y1="842.20" x2="448.25" y2="842.20" stroke="#222" stroke-width="0.9"/>
<line x1="447.25" y1="837.74" x2="447.25" y2="839.94" stroke="#222" stroke-width="0.8"/>
<line x1="446.25" y1="837.74" x2="448.25" y2="837.74" stroke="#222" stroke-width="0.9"/>
<line x1="447.25" y1="815.47" x2="447.25" y2="818.77" stroke="#222" stroke-width="0.8"/>
<line x1="446.25" y1="815.47" x2="448.25" y2="815.47" stroke="#222" stroke-width="0.9"/>
<rect x="466.00" y="883.51" width="9.50" height="16.69" fill="#e8bd1e"/>
<rect x="466.00" y="834.84" width="9.50" height="48.68" fill="#2e4b7c"/>
<rect x="466.00" y="828.97" width="9.50" height="5.86" fill="#c8c7cc"/>
<rect x="466.00" y="819.78" width="9.50" height="9.20" fill="#db8a16"/>
<line x1="470.75" y1="881.61" x2="470.75" y2="883.81" stroke="#222" stroke-width="0.8"/>
<line x1="469.75" y1="881.61" x2="471.75" y2="881.61" stroke="#222" stroke-width="0.9"/>
<line x1="470.75" y1="832.94" x2="470.75" y2="835.14" stroke="#222" stroke-width="0.8"/>
<line x1="469.75" y1="832.94" x2="471.75" y2="832.94" stroke="#222" stroke-width="0.9"/>
<line x1="470.75" y1="827.07" x2="470.75" y2="829.27" stroke="#222" stroke-width="0.8"/>
<line x1="469.75" y1="827.07" x2="471.75" y2="827.07" stroke="#222" stroke-width="0.9"/>
<line x1="470.75" y1="818.68" x2="470.75" y2="820.08" stroke="#222" stroke-width="0.8"/>
<line x1="469.75" y1="818.68" x2="471.75" y2="818.68" stroke="#222" stroke-width="0.9"/>
<rect x="489.50" y="884.25" width="9.50" height="15.95" fill="#e8bd1e"/>
<rect x="489.50" y="834.84" width="9.50" height="49.41" fill="#2e4b7c"/>
<rect x="489.50" y="828.49" width="9.50" height="6.35" fill="#c8c7cc"/>
<rect x="489.50" y="819.78" width="9.50" height="8.71" fill="#db8a16"/>
<line x1="494.25" y1="882.35" x2="494.25" y2="884.55" stroke="#222" stroke-width="0.8"/>
<line x1="493.25" y1="882.35" x2="495.25" y2="882.35" stroke="#222" stroke-width="0.9"/>
<line x1="494.25" y1="832.94" x2="494.25" y2="835.14" stroke="#222" stroke-width="0.8"/>
<line x1="493.25" y1="832.94" x2="495.25" y2="832.94" stroke="#222" stroke-width="0.9"/>
<line x1="494.25" y1="826.59" x2="494.25" y2="828.79" stroke="#222" stroke-width="0.8"/>
<line x1="493.25" y1="826.59" x2="495.25" y2="826.59" stroke="#222" stroke-width="0.9"/>
<line x1="494.25" y1="818.68" x2="494.25" y2="820.08" stroke="#222" stroke-width="0.8"/>
<line x1="493.25" y1="818.68" x2="495.25" y2="818.68" stroke="#222" stroke-width="0.9"/>
<line x1="318.50" y1="799.02" x2="318.50" y2="900.80" stroke="#000" stroke-width="1.25"/>
<line x1="317.40" y1="900.20" x2="506.60" y2="900.20" stroke="#000" stroke-width="1.3"/>
<line x1="318.00" y1="900.20" x2="318.00" y2="904.60" stroke="#000" stroke-width="1.1"/>
<line x1="341.50" y1="900.20" x2="341.50" y2="904.60" stroke="#000" stroke-width="1.1"/>
<line x1="365.00" y1="900.20" x2="365.00" y2="904.60" stroke="#000" stroke-width="1.1"/>
<line x1="388.50" y1="900.20" x2="388.50" y2="904.60" stroke="#000" stroke-width="1.1"/>
<line x1="412.00" y1="900.20" x2="412.00" y2="904.60" stroke="#000" stroke-width="1.1"/>
<line x1="435.50" y1="900.20" x2="435.50" y2="904.60" stroke="#000" stroke-width="1.1"/>
<line x1="459.00" y1="900.20" x2="459.00" y2="904.60" stroke="#000" stroke-width="1.1"/>
<line x1="482.50" y1="900.20" x2="482.50" y2="904.60" stroke="#000" stroke-width="1.1"/>
<line x1="506.00" y1="900.20" x2="506.00" y2="904.60" stroke="#000" stroke-width="1.1"/>
<line x1="314.30" y1="900.20" x2="318.50" y2="900.20" stroke="#000" stroke-width="1.1"/>
<text x="309.50" y="903.10" font-size="8.3" text-anchor="end" textLength="5.12" lengthAdjust="spacingAndGlyphs" fill="#111" stroke="#111" stroke-width="0.18">0</text>
<line x1="314.30" y1="883.92" x2="318.50" y2="883.92" stroke="#000" stroke-width="1.1"/>
<text x="309.50" y="886.82" font-size="8.3" text-anchor="end" textLength="10.25" lengthAdjust="spacingAndGlyphs" fill="#111" stroke="#111" stroke-width="0.18">20</text>
<line x1="314.30" y1="867.64" x2="318.50" y2="867.64" stroke="#000" stroke-width="1.1"/>
<text x="309.50" y="870.54" font-size="8.3" text-anchor="end" textLength="10.25" lengthAdjust="spacingAndGlyphs" fill="#111" stroke="#111" stroke-width="0.18">40</text>
<line x1="314.30" y1="851.36" x2="318.50" y2="851.36" stroke="#000" stroke-width="1.1"/>
<text x="309.50" y="854.26" font-size="8.3" text-anchor="end" textLength="10.25" lengthAdjust="spacingAndGlyphs" fill="#111" stroke="#111" stroke-width="0.18">60</text>
<line x1="314.30" y1="835.08" x2="318.50" y2="835.08" stroke="#000" stroke-width="1.1"/>
<text x="309.50" y="837.98" font-size="8.3" text-anchor="end" textLength="10.25" lengthAdjust="spacingAndGlyphs" fill="#111" stroke="#111" stroke-width="0.18">80</text>
<line x1="314.30" y1="818.80" x2="318.50" y2="818.80" stroke="#000" stroke-width="1.1"/>
<text x="309.50" y="821.70" font-size="8.3" text-anchor="end" textLength="15.37" lengthAdjust="spacingAndGlyphs" fill="#111" stroke="#111" stroke-width="0.18">100</text>
<line x1="314.30" y1="802.52" x2="318.50" y2="802.52" stroke="#000" stroke-width="1.1"/>
<text x="309.50" y="805.42" font-size="8.3" text-anchor="end" textLength="15.37" lengthAdjust="spacingAndGlyphs" fill="#111" stroke="#111" stroke-width="0.18">120</text>
<text x="414.20" y="784.60" font-size="9" text-anchor="middle" textLength="24.60" lengthAdjust="spacingAndGlyphs" fill="#111" stroke="#111" stroke-width="0.18">Toledo</text>
<text x="309.30" y="916.40" font-size="8.6" text-anchor="end" textLength="35.40" lengthAdjust="spacingAndGlyphs" fill="#111" stroke="#111" stroke-width="0.18">Vitamin E</text>
<text x="309.30" y="927.10" font-size="8.6" text-anchor="end" textLength="43.00" lengthAdjust="spacingAndGlyphs" fill="#111" stroke="#111" stroke-width="0.18">Pracinostat</text>
<text x="309.30" y="937.80" font-size="8.6" text-anchor="end" textLength="20.00" lengthAdjust="spacingAndGlyphs" fill="#111" stroke="#111" stroke-width="0.18">BSO</text>
<rect x="328.75" y="913.45" width="2.00" height="1.10" fill="#333"/>
<rect x="328.75" y="924.15" width="2.00" height="1.10" fill="#333"/>
<rect x="328.75" y="934.85" width="2.00" height="1.10" fill="#333"/>
<path d="M350.85,914.00H355.65M353.25,911.70V916.30" stroke="#222" stroke-width="1.0" fill="none"/>
<rect x="352.25" y="924.15" width="2.00" height="1.10" fill="#333"/>
<rect x="352.25" y="934.85" width="2.00" height="1.10" fill="#333"/>
<rect x="375.75" y="913.45" width="2.00" height="1.10" fill="#333"/>
<path d="M374.35,924.70H379.15M376.75,922.40V927.00" stroke="#222" stroke-width="1.0" fill="none"/>
<rect x="375.75" y="934.85" width="2.00" height="1.10" fill="#333"/>
<path d="M397.85,914.00H402.65M400.25,911.70V916.30" stroke="#222" stroke-width="1.0" fill="none"/>
<path d="M397.85,924.70H402.65M400.25,922.40V927.00" stroke="#222" stroke-width="1.0" fill="none"/>
<rect x="399.25" y="934.85" width="2.00" height="1.10" fill="#333"/>
<rect x="422.75" y="913.45" width="2.00" height="1.10" fill="#333"/>
<rect x="422.75" y="924.15" width="2.00" height="1.10" fill="#333"/>
<path d="M421.35,935.40H426.15M423.75,933.10V937.70" stroke="#222" stroke-width="1.0" fill="none"/>
<path d="M444.85,914.00H449.65M447.25,911.70V916.30" stroke="#222" stroke-width="1.0" fill="none"/>
<rect x="446.25" y="924.15" width="2.00" height="1.10" fill="#333"/>
<path d="M444.85,935.40H449.65M447.25,933.10V937.70" stroke="#222" stroke-width="1.0" fill="none"/>
<rect x="469.75" y="913.45" width="2.00" height="1.10" fill="#333"/>
<path d="M468.35,924.70H473.15M470.75,922.40V927.00" stroke="#222" stroke-width="1.0" fill="none"/>
<path d="M468.35,935.40H473.15M470.75,933.10V937.70" stroke="#222" stroke-width="1.0" fill="none"/>
<path d="M491.85,914.00H496.65M494.25,911.70V916.30" stroke="#222" stroke-width="1.0" fill="none"/>
<path d="M491.85,924.70H496.65M494.25,922.40V927.00" stroke="#222" stroke-width="1.0" fill="none"/>
<path d="M491.85,935.40H496.65M494.25,933.10V937.70" stroke="#222" stroke-width="1.0" fill="none"/>
<rect x="182.80" y="955.00" width="6.80" height="6.50" fill="#e8bd1e"/>
<text x="193.80" y="961.20" font-size="8.3" textLength="28.50" lengthAdjust="spacingAndGlyphs" fill="#111" stroke="#111" stroke-width="0.18">sub-G1</text>
<rect x="236.30" y="955.00" width="6.80" height="6.50" fill="#2e4b7c"/>
<text x="247.40" y="961.20" font-size="8.3" textLength="11.80" lengthAdjust="spacingAndGlyphs" fill="#111" stroke="#111" stroke-width="0.18">G1</text>
<rect x="271.60" y="955.00" width="6.80" height="6.50" fill="#c8c7cc"/>
<text x="283.40" y="961.20" font-size="8.3" textLength="6.10" lengthAdjust="spacingAndGlyphs" fill="#111" stroke="#111" stroke-width="0.18">S</text>
<rect x="303.60" y="955.00" width="6.80" height="6.50" fill="#db8a16"/>
<text x="314.00" y="961.20" font-size="8.3" textLength="23.30" lengthAdjust="spacingAndGlyphs" fill="#111" stroke="#111" stroke-width="0.18">G2/M</text>
<rect x="0.00" y="0.00" width="520.00" height="1.65" fill="#000"/>
<rect x="0.00" y="0.00" width="1.55" height="973.00" fill="#000"/>
<rect x="518.35" y="0.00" width="1.65" height="973.00" fill="#000"/>
<rect x="0.00" y="970.90" width="520.00" height="2.10" fill="#000"/>
</svg>
</body></html>
